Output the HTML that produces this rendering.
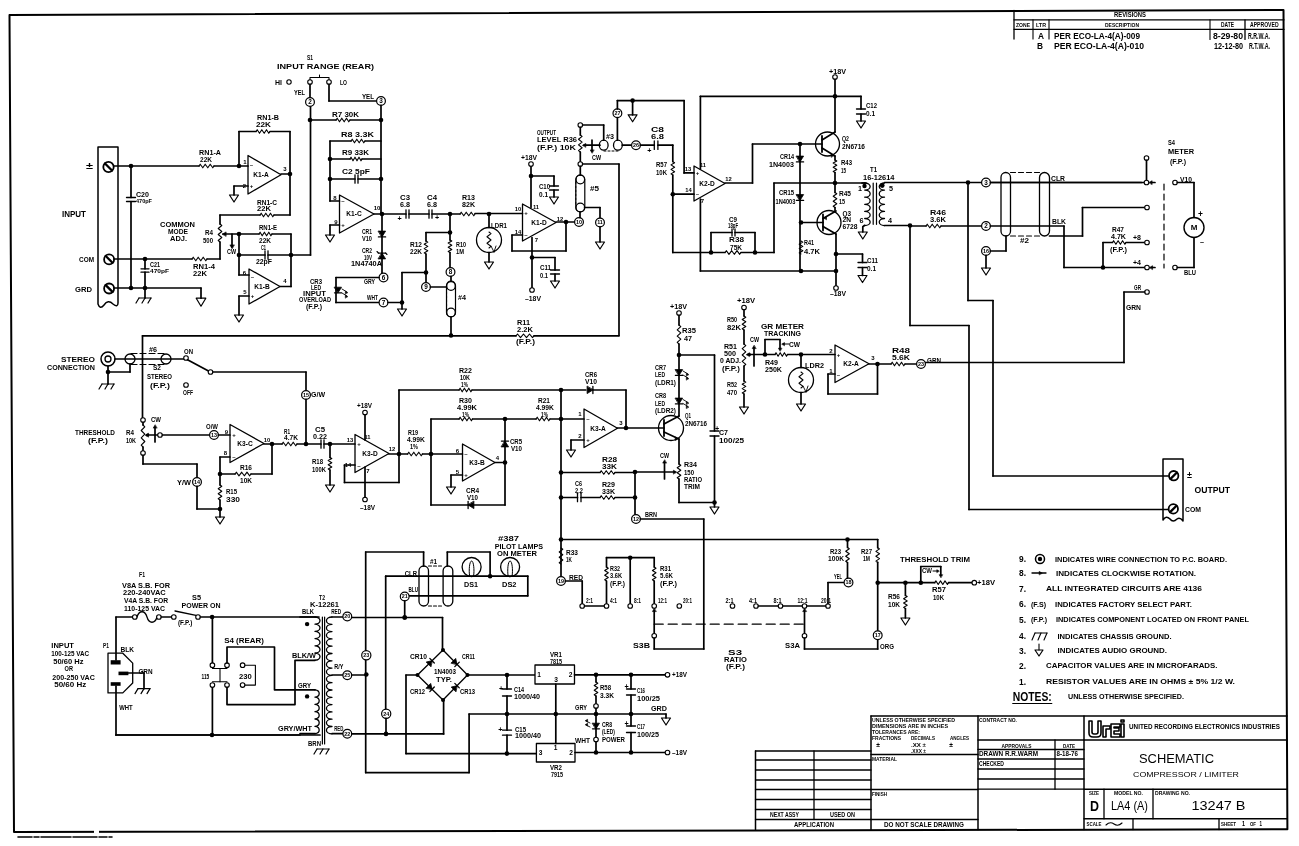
<!DOCTYPE html>
<html><head><meta charset="utf-8"><title>Schematic Compressor / Limiter</title>
<style>
html,body{margin:0;padding:0;background:#fff;}
body{width:1299px;height:846px;overflow:hidden;}
svg{display:block;will-change:transform;}
svg text{font-family:"Liberation Sans",sans-serif;fill:#000;stroke:none;}
svg text.b{font-weight:bold;}
svg text.n{font-weight:normal;}
</style></head>
<body>
<svg width="1299" height="846" viewBox="0 0 1299 846" stroke="#000" stroke-width="1.7" fill="none" stroke-linecap="round" stroke-linejoin="round">
<rect x="0" y="0" width="1299" height="846" fill="#fff" stroke="none"/>
<polygon points="9.5,15 1283.5,10 1287.4,829.3 14,832" stroke-width="2"/>
<rect x="94" y="829" width="5" height="5" fill="#fff" stroke="none"/>
<polyline points="18,837 112,837" stroke-width="1.6" stroke-dasharray="14 2 5 2 30 2 24 2 8 2"/>
<polyline points="1014,10.5 1014,39" stroke-width="1.3"/>
<polyline points="1014,19.8 1284,19.8" stroke-width="1.3"/>
<polyline points="1014,29.3 1284,29.3" stroke-width="1.3"/>
<polyline points="1033,19.8 1033,39" stroke-width="1.1"/>
<polyline points="1049,19.8 1049,39" stroke-width="1.1"/>
<polyline points="1210,19.8 1210,39.4" stroke-width="1.1"/>
<polyline points="1245,19.8 1245,39.4" stroke-width="1.3"/>
<text x="1114" y="17.4" font-size="6.6" text-anchor="start" class="b" textLength="32" lengthAdjust="spacingAndGlyphs">REVISIONS</text>
<text x="1016" y="27.2" font-size="6" text-anchor="start" class="b" textLength="14" lengthAdjust="spacingAndGlyphs">ZONE</text>
<text x="1036" y="27.2" font-size="6" text-anchor="start" class="b" textLength="10" lengthAdjust="spacingAndGlyphs">LTR</text>
<text x="1105" y="27.2" font-size="6" text-anchor="start" class="b" textLength="34" lengthAdjust="spacingAndGlyphs">DESCRIPTION</text>
<text x="1221" y="27.4" font-size="6.6" text-anchor="start" class="b" textLength="13" lengthAdjust="spacingAndGlyphs">DATE</text>
<text x="1250" y="27.4" font-size="6.6" text-anchor="start" class="b" textLength="28.6" lengthAdjust="spacingAndGlyphs">APPROVED</text>
<text x="1038" y="39.2" font-size="9" text-anchor="start" class="b" textLength="6" lengthAdjust="spacingAndGlyphs">A</text>
<text x="1054" y="39.2" font-size="9" text-anchor="start" class="b" textLength="86" lengthAdjust="spacingAndGlyphs">PER ECO-LA-4(A)-009</text>
<text x="1213" y="39.2" font-size="9" text-anchor="start" class="b" textLength="30" lengthAdjust="spacingAndGlyphs">8-29-80</text>
<text x="1248" y="39.2" font-size="9" text-anchor="start" class="b" textLength="22" lengthAdjust="spacingAndGlyphs">R.R.W.A.</text>
<text x="1037" y="48.6" font-size="9" text-anchor="start" class="b" textLength="6" lengthAdjust="spacingAndGlyphs">B</text>
<text x="1054" y="48.6" font-size="9" text-anchor="start" class="b" textLength="90" lengthAdjust="spacingAndGlyphs">PER ECO-LA-4(A)-010</text>
<text x="1214" y="48.6" font-size="9" text-anchor="start" class="b" textLength="29" lengthAdjust="spacingAndGlyphs">12-12-80</text>
<text x="1249" y="48.6" font-size="9" text-anchor="start" class="b" textLength="21" lengthAdjust="spacingAndGlyphs">R.T.W.A.</text>
<path d="M98,147 L118,147 L118,303 Q118,308 113,304 Q108,299 104,305 Q100,310 98,304 Z" fill="none" stroke-width="1.5"/>
<circle cx="108.5" cy="167" r="5.2" fill="none" stroke-width="1.8"/>
<polyline points="105,163.5 112,170.5" stroke-width="2.3"/>
<circle cx="109.1" cy="259.4" r="5" fill="none" stroke-width="1.8"/>
<polyline points="105.7,256 112.5,262.8" stroke-width="2.3"/>
<circle cx="109.1" cy="288.5" r="5" fill="none" stroke-width="1.8"/>
<polyline points="105.7,285.1 112.5,291.9" stroke-width="2.3"/>
<text x="86" y="169.2" font-size="9" text-anchor="start" class="b" textLength="7" lengthAdjust="spacingAndGlyphs">±</text>
<text x="62" y="217.2" font-size="9" text-anchor="start" class="b" textLength="24" lengthAdjust="spacingAndGlyphs">INPUT</text>
<text x="79" y="262.3" font-size="7.8" text-anchor="start" class="b" textLength="15" lengthAdjust="spacingAndGlyphs">COM</text>
<text x="75" y="291.8" font-size="7.8" text-anchor="start" class="b" textLength="17" lengthAdjust="spacingAndGlyphs">GRD</text>
<polyline points="114,166 199,166"/>
<polyline points="199,166 200.2,164.2 202.8,167.8 205.2,164.2 207.8,167.8 210.2,164.2 212.8,167.8 214,166" stroke-width="1.1"/>
<polyline points="214,166 248,166"/>
<circle cx="131" cy="166" r="2.3" fill="#000" stroke="none"/>
<circle cx="239" cy="166" r="2.3" fill="#000" stroke="none"/>
<text x="199" y="154.6" font-size="7.2" text-anchor="start" class="b" textLength="22" lengthAdjust="spacingAndGlyphs">RN1-A</text>
<text x="200" y="161.6" font-size="7.2" text-anchor="start" class="b" textLength="12" lengthAdjust="spacingAndGlyphs">22K</text>
<polyline points="131,166 131,197.5"/>
<polyline points="126.5,197.5 135.5,197.5" stroke-width="1.3"/>
<polyline points="126.5,201.5 135.5,201.5" stroke-width="1.3"/>
<polyline points="131,201.5 131,288"/>
<text x="136" y="196.6" font-size="7.2" text-anchor="start" class="b" textLength="13" lengthAdjust="spacingAndGlyphs">C20</text>
<text x="136" y="202.7" font-size="6" text-anchor="start" class="b" textLength="16" lengthAdjust="spacingAndGlyphs">470pF</text>
<polyline points="114,259 192,259"/>
<polyline points="192,259 193.2,257.2 195.8,260.8 198.2,257.2 200.8,260.8 203.2,257.2 205.8,260.8 207,259" stroke-width="1.1"/>
<polyline points="207,259 220,259"/>
<polyline points="220,259 220,242"/>
<circle cx="145" cy="259" r="2.3" fill="#000" stroke="none"/>
<polyline points="145,259 145,268.8"/>
<polyline points="141,268.8 149,268.8" stroke-width="1.3"/>
<polyline points="141,272.2 149,272.2" stroke-width="1.3"/>
<polyline points="145,272.2 145,288"/>
<text x="150" y="266.6" font-size="7.2" text-anchor="start" class="b" textLength="10" lengthAdjust="spacingAndGlyphs">C21</text>
<text x="150" y="272.7" font-size="6" text-anchor="start" class="b" textLength="19" lengthAdjust="spacingAndGlyphs">470pF</text>
<text x="193" y="268.6" font-size="7.2" text-anchor="start" class="b" textLength="22" lengthAdjust="spacingAndGlyphs">RN1-4</text>
<text x="193" y="275.6" font-size="7.2" text-anchor="start" class="b" textLength="14" lengthAdjust="spacingAndGlyphs">22K</text>
<polyline points="114,288 201,288"/>
<polyline points="201,288 201,298.2"/>
<polygon points="196.2,298.2 205.8,298.2 201,306.2" stroke-width="1.2"/>
<circle cx="131" cy="288" r="2.3" fill="#000" stroke="none"/>
<circle cx="145" cy="288" r="2.3" fill="#000" stroke="none"/>
<polyline points="145,288 145,298"/>
<polyline points="139,298 151,298" stroke-width="1.2"/>
<polyline points="139,298 136,303" stroke-width="1.2"/>
<polyline points="145,298 142,303" stroke-width="1.2"/>
<polyline points="151,298 148,303" stroke-width="1.2"/>
<polyline points="220,215 220,224"/>
<polyline points="220,224 221.8,225.5 218.2,228.5 221.8,231.5 218.2,234.5 221.8,237.5 218.2,240.5 220,242" stroke-width="1.1"/>
<polyline points="239,234 223,234"/>
<polygon points="222.5,234 226.1,231.9 226.1,236.1" stroke-width="0.6" fill="#000"/>
<circle cx="239" cy="234" r="2.3" fill="#000" stroke="none"/>
<polyline points="232,234 232,247"/>
<polygon points="232,248.5 229.9,244.9 234.1,244.9" stroke-width="0.6" fill="#000"/>
<text x="160" y="227.1" font-size="7.2" text-anchor="start" class="b" textLength="35" lengthAdjust="spacingAndGlyphs">COMMON</text>
<text x="168" y="234.1" font-size="7.2" text-anchor="start" class="b" textLength="20" lengthAdjust="spacingAndGlyphs">MODE</text>
<text x="170" y="241.1" font-size="7.2" text-anchor="start" class="b" textLength="17" lengthAdjust="spacingAndGlyphs">ADJ.</text>
<text x="205" y="234.6" font-size="7.2" text-anchor="start" class="b" textLength="8" lengthAdjust="spacingAndGlyphs">R4</text>
<text x="203" y="242.6" font-size="7.2" text-anchor="start" class="b" textLength="10" lengthAdjust="spacingAndGlyphs">500</text>
<text x="227" y="254.1" font-size="7.2" text-anchor="start" class="b" textLength="9" lengthAdjust="spacingAndGlyphs">CW</text>
<polyline points="220,215 260,215"/>
<polyline points="260,215 261.2,213.2 263.5,216.8 265.8,213.2 268.2,216.8 270.5,213.2 272.8,216.8 274,215" stroke-width="1.1"/>
<polyline points="274,215 290,215"/>
<text x="257" y="204.6" font-size="7.2" text-anchor="start" class="b" textLength="20" lengthAdjust="spacingAndGlyphs">RN1-C</text>
<text x="257" y="211.1" font-size="7.2" text-anchor="start" class="b" textLength="14" lengthAdjust="spacingAndGlyphs">22K</text>
<polyline points="239,131.5 239,166"/>
<polyline points="239,131.5 256,131.5"/>
<polyline points="256,131.5 257.2,129.7 259.5,133.3 261.8,129.7 264.2,133.3 266.5,129.7 268.8,133.3 270,131.5" stroke-width="1.1"/>
<polyline points="270,131.5 290,131.5"/>
<text x="257" y="119.6" font-size="7.2" text-anchor="start" class="b" textLength="22" lengthAdjust="spacingAndGlyphs">RN1-B</text>
<text x="256" y="126.6" font-size="7.2" text-anchor="start" class="b" textLength="15" lengthAdjust="spacingAndGlyphs">22K</text>
<polyline points="290,131.5 290,215"/>
<polygon points="248,155.5 248,194 281,174.8" stroke-width="1.3"/>
<text x="261" y="177.1" font-size="6.6" text-anchor="middle" class="b">K1-A</text>
<text x="245" y="164.2" font-size="6" text-anchor="middle" class="b">1</text>
<text x="244.5" y="188.2" font-size="6" text-anchor="middle" class="b">2</text>
<text x="285" y="171.2" font-size="6" text-anchor="middle" class="b">3</text>
<text x="251.5" y="167.2" font-size="6" text-anchor="middle" class="b">–</text>
<text x="251.5" y="188.2" font-size="6" text-anchor="middle" class="b">+</text>
<polyline points="248,186 234,186"/>
<polyline points="234,186 234,195"/>
<polygon points="229.5,195 238.5,195 234,202" stroke-width="1.2"/>
<polyline points="281,174 290,174"/>
<circle cx="290" cy="174" r="2.3" fill="#000" stroke="none"/>
<polyline points="239,234 259,234"/>
<polyline points="259,234 260.1,232.2 262.2,235.8 264.4,232.2 266.6,235.8 268.8,232.2 270.9,235.8 272,234" stroke-width="1.1"/>
<polyline points="272,234 291,234"/>
<text x="259" y="229.6" font-size="7.2" text-anchor="start" class="b" textLength="18" lengthAdjust="spacingAndGlyphs">RN1-E</text>
<text x="259" y="243.1" font-size="7.2" text-anchor="start" class="b" textLength="12" lengthAdjust="spacingAndGlyphs">22K</text>
<polyline points="239,255 265,255"/>
<polyline points="265,250.8 265,259.2" stroke-width="1.3"/>
<polyline points="268,250.8 268,259.2" stroke-width="1.3"/>
<polyline points="268,255 291,255"/>
<text x="261" y="250.1" font-size="7.2" text-anchor="start" class="b" textLength="5" lengthAdjust="spacingAndGlyphs">C1</text>
<text x="256" y="264.4" font-size="6.6" text-anchor="start" class="b" textLength="16" lengthAdjust="spacingAndGlyphs">22pF</text>
<circle cx="239" cy="255" r="2.3" fill="#000" stroke="none"/>
<circle cx="291" cy="255" r="2.3" fill="#000" stroke="none"/>
<polyline points="239,234 239,275"/>
<polyline points="239,275 249,275"/>
<polyline points="291,234 291,286.5"/>
<polygon points="249,269 249,304 280,286.5" stroke-width="1.3"/>
<text x="262" y="288.9" font-size="6.6" text-anchor="middle" class="b">K1-B</text>
<text x="244.5" y="275.2" font-size="6" text-anchor="middle" class="b">6</text>
<text x="245" y="294.2" font-size="6" text-anchor="middle" class="b">5</text>
<text x="285" y="283.2" font-size="6" text-anchor="middle" class="b">4</text>
<text x="252.5" y="279.2" font-size="6" text-anchor="middle" class="b">–</text>
<text x="252.5" y="298.2" font-size="6" text-anchor="middle" class="b">+</text>
<polyline points="249,296 239,296"/>
<polyline points="239,296 239,315"/>
<polygon points="234.5,315 243.5,315 239,322" stroke-width="1.2"/>
<polyline points="280,286.5 291,286.5"/>
<polyline points="291,255 310.5,255"/>
<polyline points="310.5,106.5 310.5,255"/>
<text x="307" y="60.1" font-size="7.2" text-anchor="start" class="b" textLength="6" lengthAdjust="spacingAndGlyphs">S1</text>
<text x="277" y="68.8" font-size="7.8" text-anchor="start" class="b" textLength="97" lengthAdjust="spacingAndGlyphs">INPUT  RANGE  (REAR)</text>
<text x="275" y="84.6" font-size="7.2" text-anchor="start" class="b" textLength="7" lengthAdjust="spacingAndGlyphs">HI</text>
<circle cx="289" cy="82" r="2.2" fill="#fff" stroke-width="1.1"/>
<circle cx="310" cy="82" r="2.3" fill="#fff" stroke-width="1.1"/>
<circle cx="329" cy="82" r="2.3" fill="#fff" stroke-width="1.1"/>
<polyline points="310,79.5 310,77.5 329,77.5 329,79.5" stroke-width="1.1"/>
<polyline points="319.5,75 319.5,77.5" stroke-width="1"/>
<text x="340" y="84.6" font-size="7.2" text-anchor="start" class="b" textLength="7" lengthAdjust="spacingAndGlyphs">LO</text>
<polyline points="310,84.3 310,97.6"/>
<text x="294" y="94.6" font-size="7.2" text-anchor="start" class="b" textLength="11" lengthAdjust="spacingAndGlyphs">YEL</text>
<circle cx="310" cy="102" r="4.4" fill="#fff" stroke-width="1.2"/>
<text x="310" y="104.3" font-size="6.4" text-anchor="middle" class="b">2</text>
<polyline points="329,84.3 329,101"/>
<polyline points="329,101 376.6,101"/>
<text x="362" y="98.6" font-size="7.2" text-anchor="start" class="b" textLength="12" lengthAdjust="spacingAndGlyphs">YEL</text>
<circle cx="381" cy="101" r="4.4" fill="#fff" stroke-width="1.2"/>
<text x="381" y="103.3" font-size="6.4" text-anchor="middle" class="b">3</text>
<polyline points="381,105.4 381,214"/>
<polyline points="310,120 336,120"/>
<polyline points="336,120 337.2,118.2 339.5,121.8 341.8,118.2 344.2,121.8 346.5,118.2 348.8,121.8 350,120" stroke-width="1.1"/>
<polyline points="350,120 381,120"/>
<circle cx="310" cy="120" r="2.3" fill="#000" stroke="none"/>
<circle cx="381" cy="120" r="2.3" fill="#000" stroke="none"/>
<text x="332" y="116.6" font-size="7.2" text-anchor="start" class="b" textLength="27" lengthAdjust="spacingAndGlyphs">R7  30K</text>
<polyline points="330,141 351,141"/>
<polyline points="351,141 352.2,139.2 354.5,142.8 356.8,139.2 359.2,142.8 361.5,139.2 363.8,142.8 365,141" stroke-width="1.1"/>
<polyline points="365,141 381,141"/>
<text x="341" y="137.1" font-size="7.2" text-anchor="start" class="b" textLength="33" lengthAdjust="spacingAndGlyphs">R8  3.3K</text>
<polyline points="330,159 350,159"/>
<polyline points="350,159 351,157.2 353,160.8 355,157.2 357,160.8 359,157.2 361,160.8 362,159" stroke-width="1.1"/>
<polyline points="362,159 381,159"/>
<circle cx="330" cy="159" r="2.3" fill="#000" stroke="none"/>
<text x="342" y="154.6" font-size="7.2" text-anchor="start" class="b" textLength="27" lengthAdjust="spacingAndGlyphs">R9  33K</text>
<polyline points="330,179 355,179"/>
<polyline points="355,174.8 355,183.2" stroke-width="1.3"/>
<polyline points="358,174.8 358,183.2" stroke-width="1.3"/>
<polyline points="358,179 381,179"/>
<circle cx="330" cy="179" r="2.3" fill="#000" stroke="none"/>
<circle cx="381" cy="179" r="2.3" fill="#000" stroke="none"/>
<text x="342" y="174.1" font-size="7.2" text-anchor="start" class="b" textLength="28" lengthAdjust="spacingAndGlyphs">C2  5pF</text>
<polyline points="330,141 330,201"/>
<polyline points="330,201 339.5,201"/>
<polygon points="339.5,195 339.5,233 374,214" stroke-width="1.3"/>
<text x="354" y="216.4" font-size="6.6" text-anchor="middle" class="b">K1-C</text>
<text x="335" y="199.7" font-size="6" text-anchor="middle" class="b">8</text>
<text x="336" y="223.7" font-size="6" text-anchor="middle" class="b">9</text>
<text x="377" y="210.2" font-size="6" text-anchor="middle" class="b">10</text>
<text x="343" y="203.2" font-size="6" text-anchor="middle" class="b">–</text>
<text x="343" y="227.2" font-size="6" text-anchor="middle" class="b">+</text>
<polyline points="339.5,225 330,225"/>
<polyline points="330,225 330,235"/>
<polygon points="325.5,235 334.5,235 330,242" stroke-width="1.2"/>
<polyline points="374,214 406,214"/>
<circle cx="382" cy="214" r="2.3" fill="#000" stroke="none"/>
<polyline points="406,209.8 406,218.2" stroke-width="1.3"/>
<polyline points="409,209.8 409,218.2" stroke-width="1.3"/>
<polyline points="409,214 429,214"/>
<polyline points="429,209.8 429,218.2" stroke-width="1.3"/>
<polyline points="432,209.8 432,218.2" stroke-width="1.3"/>
<polyline points="432,214 460,214"/>
<text x="399.5" y="220.6" font-size="7.2" text-anchor="middle" class="b">+</text>
<text x="437" y="220.1" font-size="7.2" text-anchor="middle" class="b">+</text>
<text x="400" y="199.6" font-size="7.2" text-anchor="start" class="b" textLength="10" lengthAdjust="spacingAndGlyphs">C3</text>
<text x="400" y="207.1" font-size="7.2" text-anchor="start" class="b" textLength="10" lengthAdjust="spacingAndGlyphs">6.8</text>
<text x="427" y="199.6" font-size="7.2" text-anchor="start" class="b" textLength="10" lengthAdjust="spacingAndGlyphs">C4</text>
<text x="427" y="207.1" font-size="7.2" text-anchor="start" class="b" textLength="10" lengthAdjust="spacingAndGlyphs">6.8</text>
<circle cx="450" cy="214" r="2.3" fill="#000" stroke="none"/>
<polyline points="460,214 461.2,212.2 463.8,215.8 466.2,212.2 468.8,215.8 471.2,212.2 473.8,215.8 475,214" stroke-width="1.1"/>
<polyline points="475,213.5 522.5,213.5"/>
<circle cx="489" cy="214" r="2.3" fill="#000" stroke="none"/>
<text x="462" y="199.6" font-size="7.2" text-anchor="start" class="b" textLength="13" lengthAdjust="spacingAndGlyphs">R13</text>
<text x="462" y="207.1" font-size="7.2" text-anchor="start" class="b" textLength="13" lengthAdjust="spacingAndGlyphs">82K</text>
<polyline points="382,214 382,273"/>
<polygon points="378.4,231.1 385.6,231.1 382,236.9" stroke-width="0.8" fill="#000"/>
<polyline points="378.4,236.9 385.6,236.9" stroke-width="1.3"/>
<polygon points="378.4,258.9 385.6,258.9 382,253.1" stroke-width="0.8" fill="#000"/>
<polyline points="378.4,253.1 385.6,253.1" stroke-width="1.3"/>
<polyline points="378.4,253 377,251.5" stroke-width="1.1"/>
<polyline points="385.6,253 387,254.5" stroke-width="1.1"/>
<text x="362" y="233.6" font-size="7.2" text-anchor="start" class="b" textLength="10" lengthAdjust="spacingAndGlyphs">CR1</text>
<text x="362" y="241.1" font-size="7.2" text-anchor="start" class="b" textLength="10" lengthAdjust="spacingAndGlyphs">V10</text>
<text x="362" y="252.6" font-size="7.2" text-anchor="start" class="b" textLength="10" lengthAdjust="spacingAndGlyphs">CR2</text>
<text x="364" y="259.6" font-size="7.2" text-anchor="start" class="b" textLength="8" lengthAdjust="spacingAndGlyphs">10V</text>
<text x="351" y="266.4" font-size="6.6" text-anchor="start" class="b" textLength="31" lengthAdjust="spacingAndGlyphs">1N4740A</text>
<circle cx="383.5" cy="277.5" r="4.4" fill="#fff" stroke-width="1.2"/>
<text x="383.5" y="279.8" font-size="6.4" text-anchor="middle" class="b">6</text>
<polyline points="379,277.5 336,277.5"/>
<polyline points="336,277.5 336,302.5"/>
<polyline points="336,302.5 379,302.5"/>
<polygon points="334.5,287.2 341.5,287.2 338,292.8" stroke-width="0.8" fill="#000"/>
<polyline points="334.5,292.8 341.5,292.8" stroke-width="1.3"/>
<polyline points="342,289 347,292" stroke-width="0.9"/>
<polygon points="347.5,292.5 345.3,291.2 345.3,293.8" stroke-width="0.6" fill="#000"/>
<polyline points="342,293 347,296" stroke-width="0.9"/>
<polygon points="347.5,296.5 345.3,295.2 345.3,297.8" stroke-width="0.6" fill="#000"/>
<text x="364" y="284.1" font-size="7.2" text-anchor="start" class="b" textLength="11" lengthAdjust="spacingAndGlyphs">GRY</text>
<text x="367" y="300.1" font-size="7.2" text-anchor="start" class="b" textLength="11" lengthAdjust="spacingAndGlyphs">WHT</text>
<text x="310" y="283.6" font-size="7.2" text-anchor="start" class="b" textLength="12" lengthAdjust="spacingAndGlyphs">CR3</text>
<text x="311" y="289.6" font-size="7.2" text-anchor="start" class="b" textLength="10" lengthAdjust="spacingAndGlyphs">LED</text>
<text x="303" y="295.6" font-size="7.2" text-anchor="start" class="b" textLength="23" lengthAdjust="spacingAndGlyphs">INPUT</text>
<text x="299" y="302.1" font-size="7.2" text-anchor="start" class="b" textLength="32" lengthAdjust="spacingAndGlyphs">OVERLOAD</text>
<text x="306" y="308.6" font-size="7.2" text-anchor="start" class="b" textLength="16" lengthAdjust="spacingAndGlyphs">(F.P.)</text>
<circle cx="383.5" cy="302.5" r="4.4" fill="#fff" stroke-width="1.2"/>
<text x="383.5" y="304.8" font-size="6.4" text-anchor="middle" class="b">7</text>
<polyline points="388,302.5 402,302.5"/>
<circle cx="402" cy="302.5" r="2.3" fill="#000" stroke="none"/>
<polyline points="402,302.5 402,309"/>
<polygon points="397.5,309 406.5,309 402,316" stroke-width="1.2"/>
<polyline points="402,302.5 402,272.5"/>
<polyline points="402,272.5 426,272.5"/>
<circle cx="426" cy="272.5" r="2.3" fill="#000" stroke="none"/>
<polyline points="426,232.5 426,241"/>
<polyline points="426,241 427.8,242.1 424.2,244.2 427.8,246.4 424.2,248.6 427.8,250.8 424.2,252.9 426,254" stroke-width="1.1"/>
<polyline points="426,254 426,282.6"/>
<polyline points="426,232.5 450,232.5"/>
<text x="410" y="246.6" font-size="7.2" text-anchor="start" class="b" textLength="12" lengthAdjust="spacingAndGlyphs">R12</text>
<text x="410" y="254.1" font-size="7.2" text-anchor="start" class="b" textLength="12" lengthAdjust="spacingAndGlyphs">22K</text>
<circle cx="426" cy="287" r="4.4" fill="#fff" stroke-width="1.2"/>
<text x="426" y="289.3" font-size="6.4" text-anchor="middle" class="b">9</text>
<polyline points="430.4,287 446,287"/>
<polyline points="450,214 450,240"/>
<circle cx="450" cy="232.5" r="2.3" fill="#000" stroke="none"/>
<polyline points="450,240 451.8,241 448.2,243.1 451.8,245.2 448.2,247.3 451.8,249.4 448.2,251.5 450,252.5" stroke-width="1.1"/>
<polyline points="450,252.5 450,267.6"/>
<text x="456" y="246.6" font-size="7.2" text-anchor="start" class="b" textLength="10" lengthAdjust="spacingAndGlyphs">R10</text>
<text x="456" y="254.1" font-size="7.2" text-anchor="start" class="b" textLength="8" lengthAdjust="spacingAndGlyphs">1M</text>
<circle cx="450.5" cy="272" r="4.4" fill="#fff" stroke-width="1.2"/>
<text x="450.5" y="274.3" font-size="6.4" text-anchor="middle" class="b">8</text>
<rect x="446.5" y="281" width="9" height="36" rx="4.5" fill="none" stroke-width="1.2"/>
<circle cx="451" cy="286" r="4.3" fill="none" stroke-width="1.2"/>
<circle cx="451" cy="312.5" r="4.3" fill="none" stroke-width="1.2"/>
<polyline points="446.6,288 446.6,312" stroke-width="1" stroke-dasharray="2 2"/>
<text x="458" y="300.1" font-size="7.2" text-anchor="start" class="b" textLength="8" lengthAdjust="spacingAndGlyphs">#4</text>
<polyline points="451,276.4 451,281"/>
<polyline points="451,317 451,335.5"/>
<circle cx="451" cy="335.5" r="2.3" fill="#000" stroke="none"/>
<polyline points="489,214 489,227.5"/>
<circle cx="489" cy="240" r="12.5" fill="none" stroke-width="1.3"/>
<polyline points="489,232 491,233.6 487,236.8 491,240 487,243.2 491,246.4 489,248" stroke-width="1.1"/>
<polyline points="491,246 494,252" stroke-width="0.9"/>
<polyline points="494,252 496,246" stroke-width="0.9"/>
<polyline points="489,252.5 489,262"/>
<polygon points="484.5,262 493.5,262 489,269" stroke-width="1.2"/>
<text x="491" y="227.6" font-size="7.2" text-anchor="start" class="b" textLength="16" lengthAdjust="spacingAndGlyphs">LDR1</text>
<polygon points="522.5,204 522.5,241 556,222.5" stroke-width="1.3"/>
<text x="539" y="224.9" font-size="6.6" text-anchor="middle" class="b">K1-D</text>
<text x="518" y="210.6" font-size="5.8" text-anchor="middle" class="b">10</text>
<text x="518" y="234.1" font-size="5.8" text-anchor="middle" class="b">14</text>
<text x="536" y="208.6" font-size="5.8" text-anchor="middle" class="b">11</text>
<text x="536.5" y="242.2" font-size="6" text-anchor="middle" class="b">7</text>
<text x="560" y="220.6" font-size="5.8" text-anchor="middle" class="b">12</text>
<text x="526" y="215.2" font-size="6" text-anchor="middle" class="b">+</text>
<text x="526" y="237.2" font-size="6" text-anchor="middle" class="b">–</text>
<polyline points="531,166.3 531,207.3"/>
<circle cx="531" cy="164" r="2.3" fill="#fff" stroke-width="1.1"/>
<text x="521" y="159.6" font-size="7.2" text-anchor="start" class="b" textLength="16" lengthAdjust="spacingAndGlyphs">+18V</text>
<circle cx="531" cy="176" r="2.3" fill="#000" stroke="none"/>
<polyline points="531,176 554,176"/>
<polyline points="554,176 554,186"/>
<polyline points="549.5,186 558.5,186" stroke-width="1.3"/>
<polyline points="549.5,190 558.5,190" stroke-width="1.3"/>
<polyline points="554,190 554,197"/>
<polygon points="549.5,197 558.5,197 554,204" stroke-width="1.2"/>
<text x="539" y="189.1" font-size="7.2" text-anchor="start" class="b" textLength="11" lengthAdjust="spacingAndGlyphs">C10</text>
<text x="539" y="196.6" font-size="7.2" text-anchor="start" class="b" textLength="9" lengthAdjust="spacingAndGlyphs">0.1</text>
<polyline points="522.5,235 512,235"/>
<polyline points="512,235 512,251"/>
<polyline points="512,251 566,251"/>
<polyline points="566,251 566,222"/>
<polyline points="556,222 574.6,222"/>
<circle cx="566" cy="222" r="2.3" fill="#000" stroke="none"/>
<circle cx="579" cy="222" r="4.4" fill="#fff" stroke-width="1.2"/>
<text x="579" y="223.9" font-size="5.4" text-anchor="middle" class="b">10</text>
<polyline points="532,237.5 532,287.7"/>
<circle cx="532" cy="290" r="2.3" fill="#fff" stroke-width="1.1"/>
<circle cx="532" cy="257.5" r="2.3" fill="#000" stroke="none"/>
<polyline points="532,257.5 555,257.5"/>
<polyline points="555,257.5 555,270"/>
<polyline points="550.5,270 559.5,270" stroke-width="1.3"/>
<polyline points="550.5,274 559.5,274" stroke-width="1.3"/>
<polyline points="555,274 555,281"/>
<polygon points="550.5,281 559.5,281 555,288" stroke-width="1.2"/>
<text x="540" y="269.6" font-size="7.2" text-anchor="start" class="b" textLength="11" lengthAdjust="spacingAndGlyphs">C11</text>
<text x="540" y="277.6" font-size="7.2" text-anchor="start" class="b" textLength="8" lengthAdjust="spacingAndGlyphs">0.1</text>
<text x="525" y="300.6" font-size="7.2" text-anchor="start" class="b" textLength="16" lengthAdjust="spacingAndGlyphs">–18V</text>
<circle cx="580.3" cy="125" r="2.3" fill="#fff" stroke-width="1.1"/>
<polyline points="580.3,127.3 580.3,135"/>
<polyline points="580.3,135 582.1,136.4 578.5,139.2 582.1,142.1 578.5,144.9 582.1,147.8 578.5,150.6 580.3,152" stroke-width="1.1"/>
<polyline points="580.3,152 580.3,161.7"/>
<circle cx="580.3" cy="164" r="2.3" fill="#fff" stroke-width="1.1"/>
<polyline points="600,145.2 584,145.2"/>
<polygon points="582.7,145.2 585.8,143.4 585.8,147" stroke-width="0.6" fill="#000"/>
<polyline points="592,140 592,151"/>
<polygon points="592,153 590.2,149.9 593.8,149.9" stroke-width="0.6" fill="#000"/>
<text x="592" y="159.6" font-size="7.2" text-anchor="start" class="b" textLength="9" lengthAdjust="spacingAndGlyphs">CW</text>
<text x="537" y="134.6" font-size="7.2" text-anchor="start" class="b" textLength="19" lengthAdjust="spacingAndGlyphs">OUTPUT</text>
<text x="537" y="142.1" font-size="7.2" text-anchor="start" class="b" textLength="40" lengthAdjust="spacingAndGlyphs">LEVEL  R36</text>
<text x="537" y="149.6" font-size="7.2" text-anchor="start" class="b" textLength="39" lengthAdjust="spacingAndGlyphs">(F.P.)  10K</text>
<polyline points="582.6,125 603.7,125"/>
<polyline points="603.7,125 603.7,140.2"/>
<ellipse cx="603.7" cy="145.2" rx="4.4" ry="5" fill="none" stroke-width="1.3"/>
<ellipse cx="617.9" cy="145.2" rx="4.4" ry="5" fill="none" stroke-width="1.3"/>
<polyline points="604,151 618,151" stroke-width="1" stroke-dasharray="2 2"/>
<text x="606" y="138.6" font-size="7.2" text-anchor="start" class="b" textLength="8" lengthAdjust="spacingAndGlyphs">#3</text>
<circle cx="617.4" cy="113.3" r="4.4" fill="#fff" stroke-width="1.2"/>
<text x="617.4" y="115.2" font-size="5.4" text-anchor="middle" class="b">27</text>
<polyline points="617.4,117.7 617.4,140.2"/>
<polyline points="617.4,108.9 617.4,100.6"/>
<polyline points="617.4,100.6 684.1,100.6"/>
<circle cx="632.6" cy="100.6" r="2.3" fill="#000" stroke="none"/>
<polyline points="632.6,100.6 632.6,114.8"/>
<polygon points="628.1,114.8 637.1,114.8 632.6,121.8" stroke-width="1.2"/>
<polyline points="684.1,100.6 684.1,172.9"/>
<polyline points="684.1,172.9 694,172.9"/>
<polyline points="622.3,145.2 631,145.2"/>
<circle cx="636" cy="145.2" r="4.4" fill="#fff" stroke-width="1.2"/>
<text x="636" y="147.1" font-size="5.4" text-anchor="middle" class="b">26</text>
<polyline points="640.4,145.2 654.3,145.2"/>
<polyline points="654.3,141 654.3,149.4" stroke-width="1.3"/>
<polyline points="657.9,141 657.9,149.4" stroke-width="1.3"/>
<text x="649.4" y="152.6" font-size="7.2" text-anchor="middle" class="b">+</text>
<text x="651" y="131.6" font-size="7.2" text-anchor="start" class="b" textLength="13" lengthAdjust="spacingAndGlyphs">C8</text>
<text x="651" y="139.1" font-size="7.2" text-anchor="start" class="b" textLength="13" lengthAdjust="spacingAndGlyphs">6.8</text>
<polyline points="657.9,145.2 672.8,145.2"/>
<polyline points="672.8,145.2 672.8,161.6"/>
<polyline points="672.8,161.6 674.6,162.7 671,164.9 674.6,167.2 671,169.4 674.6,171.7 671,173.9 672.8,175" stroke-width="1.1"/>
<polyline points="672.8,175 672.8,252.5"/>
<circle cx="672.8" cy="194.2" r="2.3" fill="#000" stroke="none"/>
<polyline points="672.8,194.2 694,194.2"/>
<text x="656" y="167.1" font-size="7.2" text-anchor="start" class="b" textLength="11" lengthAdjust="spacingAndGlyphs">R57</text>
<text x="656" y="174.6" font-size="7.2" text-anchor="start" class="b" textLength="11" lengthAdjust="spacingAndGlyphs">10K</text>
<polyline points="582.6,164 619,164"/>
<polyline points="619,164 619,335.5"/>
<polyline points="580.3,166.3 580.3,175"/>
<rect x="575.8" y="175" width="9" height="37" rx="4.5" fill="none" stroke-width="1.2"/>
<circle cx="580.3" cy="179.5" r="4.3" fill="none" stroke-width="1.2"/>
<circle cx="580.3" cy="207.5" r="4.3" fill="none" stroke-width="1.2"/>
<polyline points="575.8,182 575.8,205" stroke-width="1" stroke-dasharray="2 2"/>
<text x="590" y="191.1" font-size="7.2" text-anchor="start" class="b" textLength="9" lengthAdjust="spacingAndGlyphs">#5</text>
<polyline points="580,212 580,217.6"/>
<polyline points="584.6,207.5 600,207.5"/>
<polyline points="600,207.5 600,218"/>
<circle cx="600" cy="222.5" r="4.4" fill="#fff" stroke-width="1.2"/>
<text x="600" y="224.4" font-size="5.4" text-anchor="middle" class="b">11</text>
<polyline points="600,226.9 600,242"/>
<polygon points="595.5,242 604.5,242 600,249" stroke-width="1.2"/>
<polyline points="142.5,335.8 516,335.8"/>
<polyline points="516,335.8 517.5,334 520.5,337.6 523.5,334 526.5,337.6 529.5,334 532.5,337.6 534,335.8" stroke-width="1.1"/>
<polyline points="534,335.8 619,335.8"/>
<text x="517" y="325.1" font-size="7.2" text-anchor="start" class="b" textLength="13" lengthAdjust="spacingAndGlyphs">R11</text>
<text x="517" y="331.6" font-size="7.2" text-anchor="start" class="b" textLength="16" lengthAdjust="spacingAndGlyphs">2.2K</text>
<text x="516" y="344.1" font-size="7.2" text-anchor="start" class="b" textLength="19" lengthAdjust="spacingAndGlyphs">(F.P.)</text>
<polygon points="694,166 694,201 725,183.5" stroke-width="1.3"/>
<text x="707" y="185.9" font-size="6.6" text-anchor="middle" class="b">K2-D</text>
<text x="688" y="170.6" font-size="5.8" text-anchor="middle" class="b">13</text>
<text x="688.5" y="192.1" font-size="5.8" text-anchor="middle" class="b">14</text>
<text x="703" y="167.1" font-size="5.8" text-anchor="middle" class="b">11</text>
<text x="728.5" y="180.6" font-size="5.8" text-anchor="middle" class="b">12</text>
<text x="702.5" y="203.2" font-size="6" text-anchor="middle" class="b">7</text>
<text x="697.5" y="174.7" font-size="6" text-anchor="middle" class="b">+</text>
<text x="697.5" y="196.2" font-size="6" text-anchor="middle" class="b">–</text>
<polyline points="700.4,168.9 700.4,96.3"/>
<polyline points="700.4,96.3 861,96.3"/>
<circle cx="835" cy="96.3" r="2.3" fill="#000" stroke="none"/>
<circle cx="835" cy="77" r="2.3" fill="#fff" stroke-width="1.1"/>
<text x="829" y="73.6" font-size="7.2" text-anchor="start" class="b" textLength="17" lengthAdjust="spacingAndGlyphs">+18V</text>
<polyline points="835,79.3 835,132"/>
<polyline points="861,96.3 861,109"/>
<polyline points="856.5,109 865.5,109" stroke-width="1.3"/>
<polyline points="856.5,114 865.5,114" stroke-width="1.3"/>
<polyline points="861,114 861,121"/>
<polygon points="856.5,121 865.5,121 861,128" stroke-width="1.2"/>
<text x="866" y="107.6" font-size="7.2" text-anchor="start" class="b" textLength="11" lengthAdjust="spacingAndGlyphs">C12</text>
<text x="866" y="115.6" font-size="7.2" text-anchor="start" class="b" textLength="9" lengthAdjust="spacingAndGlyphs">0.1</text>
<circle cx="827.5" cy="144" r="12" fill="none" stroke-width="1.3"/>
<polyline points="822,136 822,152" stroke-width="1.8"/>
<polyline points="822,140 835,132"/>
<polyline points="822,148 835,156"/>
<polygon points="834,155.4 831.2,153.8 831.2,157" stroke-width="0.6" fill="#000"/>
<polyline points="752.5,144 822,144"/>
<circle cx="800" cy="144" r="2.3" fill="#000" stroke="none"/>
<text x="842" y="140.6" font-size="7.2" text-anchor="start" class="b" textLength="7" lengthAdjust="spacingAndGlyphs">Q2</text>
<text x="842" y="148.9" font-size="6.6" text-anchor="start" class="b" textLength="23" lengthAdjust="spacingAndGlyphs">2N6716</text>
<polyline points="725,183 752.5,183"/>
<polyline points="752.5,183 752.5,144"/>
<polyline points="800,144 800,271"/>
<polygon points="796.4,156.1 803.6,156.1 800,161.9" stroke-width="0.8" fill="#000"/>
<polyline points="796.4,161.9 803.6,161.9" stroke-width="1.3"/>
<polygon points="796.4,194.6 803.6,194.6 800,200.4" stroke-width="0.8" fill="#000"/>
<polyline points="796.4,200.4 803.6,200.4" stroke-width="1.3"/>
<text x="780" y="159.4" font-size="6.6" text-anchor="start" class="b" textLength="14" lengthAdjust="spacingAndGlyphs">CR14</text>
<text x="769" y="166.9" font-size="6.6" text-anchor="start" class="b" textLength="25" lengthAdjust="spacingAndGlyphs">1N4003</text>
<text x="779" y="195.4" font-size="6.6" text-anchor="start" class="b" textLength="15" lengthAdjust="spacingAndGlyphs">CR15</text>
<text x="775.5" y="204.1" font-size="6.6" text-anchor="start" class="b" textLength="19.9" lengthAdjust="spacingAndGlyphs">1N4003</text>
<polyline points="835,156 835,160"/>
<polyline points="835,160 836.8,161 833.2,163.1 836.8,165.2 833.2,167.3 836.8,169.4 833.2,171.5 835,172.5" stroke-width="1.1"/>
<polyline points="835,172.5 835,192.5"/>
<circle cx="835" cy="183" r="2.3" fill="#000" stroke="none"/>
<polyline points="835,192.5 836.8,193.8 833.2,196.2 836.8,198.8 833.2,201.2 836.8,203.8 833.2,206.2 835,207.5" stroke-width="1.1"/>
<polyline points="835,207.5 835,211"/>
<text x="841" y="164.6" font-size="7.2" text-anchor="start" class="b" textLength="11" lengthAdjust="spacingAndGlyphs">R43</text>
<text x="841" y="172.6" font-size="7.2" text-anchor="start" class="b" textLength="5" lengthAdjust="spacingAndGlyphs">15</text>
<text x="839" y="195.6" font-size="7.2" text-anchor="start" class="b" textLength="12" lengthAdjust="spacingAndGlyphs">R45</text>
<text x="839" y="203.6" font-size="7.2" text-anchor="start" class="b" textLength="6" lengthAdjust="spacingAndGlyphs">15</text>
<polyline points="774,183 866,183"/>
<polyline points="774,183 774,252.5"/>
<circle cx="829" cy="222.5" r="12" fill="none" stroke-width="1.3"/>
<polyline points="823,214.5 823,230.5" stroke-width="1.8"/>
<polyline points="823,218.5 836,211"/>
<polyline points="823,226.5 836,234"/>
<polygon points="824,218 826.5,216.6 826.5,219.4" stroke-width="0.6" fill="#000"/>
<polyline points="836,234 836,285.7"/>
<polyline points="801,222.5 823,222.5"/>
<circle cx="801" cy="222.5" r="2.3" fill="#000" stroke="none"/>
<text x="842.5" y="215.9" font-size="7.2" text-anchor="start" class="b" textLength="8.5" lengthAdjust="spacingAndGlyphs">Q3</text>
<text x="842.5" y="222.1" font-size="7.2" text-anchor="start" class="b" textLength="8.5" lengthAdjust="spacingAndGlyphs">2N</text>
<text x="842.5" y="229.1" font-size="7.2" text-anchor="start" class="b" textLength="14.9" lengthAdjust="spacingAndGlyphs">6728</text>
<polyline points="801,241 802.8,242.1 799.2,244.2 802.8,246.4 799.2,248.6 802.8,250.8 799.2,252.9 801,254" stroke-width="1.1"/>
<text x="804" y="245.1" font-size="7.2" text-anchor="start" class="b" textLength="10" lengthAdjust="spacingAndGlyphs">R41</text>
<text x="804" y="253.6" font-size="7.2" text-anchor="start" class="b" textLength="16" lengthAdjust="spacingAndGlyphs">4.7K</text>
<polyline points="700.4,199 700.4,271"/>
<polyline points="700.4,271 836,271"/>
<circle cx="801" cy="271" r="2.3" fill="#000" stroke="none"/>
<circle cx="836" cy="271" r="2.3" fill="#000" stroke="none"/>
<circle cx="836" cy="254" r="2.3" fill="#000" stroke="none"/>
<polyline points="836,254 862.5,254"/>
<polyline points="862.5,254 862.5,262.5"/>
<polyline points="858,262.5 867,262.5" stroke-width="1.3"/>
<polyline points="858,267.5 867,267.5" stroke-width="1.3"/>
<polyline points="862.5,267.5 862.5,275.5"/>
<polygon points="858,275.5 867,275.5 862.5,282.5" stroke-width="1.2"/>
<text x="867" y="263.1" font-size="7.2" text-anchor="start" class="b" textLength="11" lengthAdjust="spacingAndGlyphs">C11</text>
<text x="867" y="271.1" font-size="7.2" text-anchor="start" class="b" textLength="9" lengthAdjust="spacingAndGlyphs">0.1</text>
<circle cx="836" cy="288" r="2.3" fill="#fff" stroke-width="1.1"/>
<text x="830" y="296.1" font-size="7.2" text-anchor="start" class="b" textLength="16" lengthAdjust="spacingAndGlyphs">–18V</text>
<polyline points="672.8,252.5 711,252.5"/>
<circle cx="711" cy="252.5" r="2.3" fill="#000" stroke="none"/>
<polyline points="711,252.5 725,252.5"/>
<polyline points="725,252.5 726.3,250.7 729,254.3 731.7,250.7 734.3,254.3 737,250.7 739.7,254.3 741,252.5" stroke-width="1.1"/>
<polyline points="741,252.5 774,252.5"/>
<circle cx="755" cy="252.5" r="2.3" fill="#000" stroke="none"/>
<polyline points="711,252.5 711,232.5"/>
<polyline points="711,232.5 732,232.5"/>
<polyline points="732,229 732,236" stroke-width="1.3"/>
<polyline points="735,229 735,236" stroke-width="1.3"/>
<polyline points="735,232.5 755,232.5"/>
<polyline points="755,232.5 755,252.5"/>
<text x="729" y="222.1" font-size="7.2" text-anchor="start" class="b" textLength="8" lengthAdjust="spacingAndGlyphs">C9</text>
<text x="728" y="228.4" font-size="6.6" text-anchor="start" class="b" textLength="10" lengthAdjust="spacingAndGlyphs">18pF</text>
<text x="729" y="242.1" font-size="7.2" text-anchor="start" class="b" textLength="15" lengthAdjust="spacingAndGlyphs">R38</text>
<text x="730" y="249.6" font-size="7.2" text-anchor="start" class="b" textLength="12" lengthAdjust="spacingAndGlyphs">75K</text>
<text x="870" y="172.3" font-size="7.8" text-anchor="start" class="b" textLength="7" lengthAdjust="spacingAndGlyphs">T1</text>
<text x="863" y="179.6" font-size="7.2" text-anchor="start" class="b" textLength="31.5" lengthAdjust="spacingAndGlyphs">16-12614</text>
<polyline points="873.2,183 873.2,224.3" stroke-width="1.2"/>
<polyline points="876.5,183 876.5,224.3" stroke-width="1.2"/>
<path d="M864.7,183 a5.4,3.5 0 0 1 0,7.1 a5.4,3.5 0 0 1 0,7.1 a5.4,3.5 0 0 1 0,7.1 a5.4,3.5 0 0 1 0,7.1 a5.4,3.5 0 0 1 0,7.1 a5.4,3.5 0 0 1 0,7.1 " fill="none" stroke-width="1.3"/>
<path d="M884.5,183 a5.2,3.5 0 0 0 0,7.1 a5.2,3.5 0 0 0 0,7.1 a5.2,3.5 0 0 0 0,7.1 a5.2,3.5 0 0 0 0,7.1 a5.2,3.5 0 0 0 0,7.1 a5.2,3.5 0 0 0 0,7.1 " fill="none" stroke-width="1.3"/>
<text x="860" y="190.6" font-size="7.2" text-anchor="middle" class="b">1</text>
<text x="861.4" y="223.1" font-size="7.2" text-anchor="middle" class="b">6</text>
<text x="891" y="191" font-size="7.2" text-anchor="middle" class="b">5</text>
<text x="890" y="222.6" font-size="7.2" text-anchor="middle" class="b">4</text>
<circle cx="882.2" cy="185.5" r="2.4" fill="#000" stroke="none"/>
<circle cx="864.5" cy="186" r="2.2" fill="#000" stroke="none"/>
<polyline points="864.7,225.3 862.8,226.7 862.8,232"/>
<polygon points="858.3,232 867.3,232 862.8,239" stroke-width="1.2"/>
<polyline points="862,183 864.7,183"/>
<polyline points="884.5,182.5 1141.5,182.5"/>
<polyline points="884.5,225.5 910,225.5"/>
<circle cx="910" cy="225.5" r="2.3" fill="#000" stroke="none"/>
<polyline points="910,226 926,226"/>
<polyline points="926,226 927.2,224.2 929.8,227.8 932.2,224.2 934.8,227.8 937.2,224.2 939.8,227.8 941,226" stroke-width="1.1"/>
<polyline points="941,226 981.6,226"/>
<polyline points="910,225.5 910,325.5"/>
<polyline points="910,325.5 969,325.5"/>
<polyline points="969,325.5 969,509.5"/>
<text x="930" y="214.6" font-size="7.2" text-anchor="start" class="b" textLength="16" lengthAdjust="spacingAndGlyphs">R46</text>
<text x="930" y="222.1" font-size="7.2" text-anchor="start" class="b" textLength="16" lengthAdjust="spacingAndGlyphs">3.6K</text>
<circle cx="968" cy="182.5" r="2.3" fill="#000" stroke="none"/>
<polyline points="968,182.5 968,300.5"/>
<polyline points="968,300.5 993,300.5"/>
<polyline points="993,300.5 993,476"/>
<circle cx="986" cy="182.5" r="4.4" fill="#fff" stroke-width="1.2"/>
<text x="986" y="184.8" font-size="6.4" text-anchor="middle" class="b">3</text>
<circle cx="986" cy="226" r="4.4" fill="#fff" stroke-width="1.2"/>
<text x="986" y="228.3" font-size="6.4" text-anchor="middle" class="b">2</text>
<circle cx="986" cy="251" r="4.4" fill="#fff" stroke-width="1.2"/>
<text x="986" y="252.9" font-size="5.4" text-anchor="middle" class="b">16</text>
<rect x="1001" y="172.5" width="9.5" height="63.5" rx="4.7" fill="none" stroke-width="1.3"/>
<rect x="1039.5" y="172.5" width="10" height="63.5" rx="5" fill="none" stroke-width="1.3"/>
<polyline points="1010.5,172.5 1039.5,172.5" stroke-width="1.2" stroke-dasharray="5 3"/>
<polyline points="1010.5,236 1039.5,236" stroke-width="1.2" stroke-dasharray="5 3"/>
<polyline points="990.4,182.5 1144.2,182.5"/>
<polyline points="990.4,226 1064,226"/>
<text x="1020" y="243.1" font-size="7.2" text-anchor="start" class="b" textLength="9" lengthAdjust="spacingAndGlyphs">#2</text>
<polyline points="990.4,251 1006,251"/>
<polyline points="1006,251 1006,236"/>
<polyline points="986,255.4 986,268"/>
<polygon points="981.5,268 990.5,268 986,275" stroke-width="1.2"/>
<text x="1051" y="180.6" font-size="7.2" text-anchor="start" class="b" textLength="14" lengthAdjust="spacingAndGlyphs">CLR</text>
<text x="1052" y="223.6" font-size="7.2" text-anchor="start" class="b" textLength="14" lengthAdjust="spacingAndGlyphs">BLK</text>
<polyline points="1064,226 1064,267.5"/>
<polyline points="1064,267.5 1144.7,267.5"/>
<circle cx="1103" cy="267.5" r="2.3" fill="#000" stroke="none"/>
<polyline points="1049.5,236 1082.5,236"/>
<polyline points="1082.5,236 1082.5,207.5"/>
<polyline points="1082.5,207.5 1144.7,207.5"/>
<circle cx="1147" cy="207.5" r="2.3" fill="#fff" stroke-width="1.1"/>
<polyline points="1103,267.5 1103,242.5"/>
<polyline points="1103,242.5 1112.5,242.5"/>
<polyline points="1112.5,242.5 1113.6,240.7 1115.9,244.3 1118.1,240.7 1120.4,244.3 1122.6,240.7 1124.9,244.3 1126,242.5" stroke-width="1.1"/>
<polyline points="1126,242.5 1144.7,242.5"/>
<circle cx="1147" cy="242.5" r="2.3" fill="#fff" stroke-width="1.1"/>
<text x="1112" y="232.1" font-size="7.2" text-anchor="start" class="b" textLength="12" lengthAdjust="spacingAndGlyphs">R47</text>
<text x="1111" y="238.6" font-size="7.2" text-anchor="start" class="b" textLength="15" lengthAdjust="spacingAndGlyphs">4.7K</text>
<text x="1110" y="251.6" font-size="7.2" text-anchor="start" class="b" textLength="17" lengthAdjust="spacingAndGlyphs">(F.P.)</text>
<text x="1133" y="240.1" font-size="7.2" text-anchor="start" class="b" textLength="8" lengthAdjust="spacingAndGlyphs">+8</text>
<text x="1133" y="265.1" font-size="7.2" text-anchor="start" class="b" textLength="8" lengthAdjust="spacingAndGlyphs">+4</text>
<circle cx="1146.5" cy="158" r="2.3" fill="#fff" stroke-width="1.1"/>
<polyline points="1146.5,160.3 1146.5,180.2"/>
<circle cx="1146.5" cy="182.5" r="2.3" fill="#fff" stroke-width="1.1"/>
<polygon points="1149,182.5 1152.1,180.7 1152.1,184.3" stroke-width="0.6" fill="#000"/>
<polyline points="1152,182.5 1155,182.5"/>
<circle cx="1147" cy="267.5" r="2.3" fill="#fff" stroke-width="1.1"/>
<polygon points="1149.5,267.5 1152.6,265.7 1152.6,269.3" stroke-width="0.6" fill="#000"/>
<polyline points="1152,267.5 1155,267.5"/>
<circle cx="1175" cy="182.5" r="2.3" fill="#fff" stroke-width="1.1"/>
<circle cx="1175" cy="267.5" r="2.3" fill="#fff" stroke-width="1.1"/>
<polyline points="1177.3,182.5 1194,182.5"/>
<polyline points="1194,182.5 1194,217.5"/>
<polyline points="1177.3,267.5 1194,267.5"/>
<polyline points="1194,267.5 1194,237.5"/>
<polyline points="1164,184 1164,268" stroke-width="1.2" stroke-dasharray="6 4"/>
<circle cx="1194" cy="227.5" r="10" fill="none" stroke-width="1.4"/>
<text x="1194" y="230.4" font-size="8" text-anchor="middle" class="b">M</text>
<text x="1200.5" y="217" font-size="8.4" text-anchor="middle" class="b">+</text>
<text x="1202" y="243.6" font-size="7.2" text-anchor="middle" class="b">–</text>
<text x="1168" y="144.8" font-size="7.8" text-anchor="start" class="b" textLength="7" lengthAdjust="spacingAndGlyphs">S4</text>
<text x="1168" y="153.8" font-size="7.8" text-anchor="start" class="b" textLength="26" lengthAdjust="spacingAndGlyphs">METER</text>
<text x="1170" y="163.6" font-size="7.2" text-anchor="start" class="b" textLength="16" lengthAdjust="spacingAndGlyphs">(F.P.)</text>
<text x="1180" y="181.6" font-size="7.2" text-anchor="start" class="b" textLength="12" lengthAdjust="spacingAndGlyphs">V10</text>
<text x="1184" y="275.1" font-size="7.2" text-anchor="start" class="b" textLength="12" lengthAdjust="spacingAndGlyphs">BLU</text>
<circle cx="1147" cy="292" r="2.3" fill="#fff" stroke-width="1.1"/>
<text x="1134" y="289.6" font-size="7.2" text-anchor="start" class="b" textLength="7" lengthAdjust="spacingAndGlyphs">GR</text>
<polyline points="1144.7,292 1124,292"/>
<polyline points="1124,292 1124,362.5"/>
<polyline points="1124,362.5 925.4,362.5"/>
<text x="1126" y="310.1" font-size="7.2" text-anchor="start" class="b" textLength="15" lengthAdjust="spacingAndGlyphs">GRN</text>
<polyline points="993,476 1168,476"/>
<polyline points="969,509.5 1168,509.5"/>
<path d="M1163,520 L1163,459 L1183,459 L1183,521 Q1180,517 1177,519 Q1173,523 1170,519 Q1166,515 1163,520" fill="none" stroke-width="1.5"/>
<circle cx="1173.7" cy="475.7" r="4.7" fill="none" stroke-width="1.8"/>
<polyline points="1170.5,478.9 1176.9,472.5" stroke-width="2.3"/>
<circle cx="1173.3" cy="508.9" r="4.7" fill="none" stroke-width="1.8"/>
<polyline points="1170.1,512.1 1176.5,505.7" stroke-width="2.3"/>
<text x="1189.5" y="477.7" font-size="9" text-anchor="middle" class="b">±</text>
<text x="1194.5" y="493.2" font-size="9" text-anchor="start" class="b" textLength="35.5" lengthAdjust="spacingAndGlyphs">OUTPUT</text>
<text x="1185" y="511.6" font-size="7.2" text-anchor="start" class="b" textLength="16" lengthAdjust="spacingAndGlyphs">COM</text>
<text x="737" y="303.1" font-size="7.2" text-anchor="start" class="b" textLength="18" lengthAdjust="spacingAndGlyphs">+18V</text>
<circle cx="744" cy="307.5" r="2.3" fill="#fff" stroke-width="1.1"/>
<polyline points="744,309.8 744,316"/>
<polyline points="744,316 745.8,317.2 742.2,319.5 745.8,321.8 742.2,324.2 745.8,326.5 742.2,328.8 744,330" stroke-width="1.1"/>
<polyline points="744,330 744,344"/>
<polyline points="744,344 745.8,345.6 742.2,348.7 745.8,351.9 742.2,355 745.8,358.1 742.2,361.3 745.8,364.4 744,366" stroke-width="1.1"/>
<polyline points="744,366 744,381"/>
<polyline points="744,381 745.8,382.1 742.2,384.2 745.8,386.4 742.2,388.6 745.8,390.8 742.2,392.9 744,394" stroke-width="1.1"/>
<polyline points="744,394 744,407"/>
<polygon points="739.5,407 748.5,407 744,414" stroke-width="1.2"/>
<text x="727" y="322.1" font-size="7.2" text-anchor="start" class="b" textLength="10" lengthAdjust="spacingAndGlyphs">R50</text>
<text x="727" y="329.6" font-size="7.2" text-anchor="start" class="b" textLength="14" lengthAdjust="spacingAndGlyphs">82K</text>
<text x="724" y="349.1" font-size="7.2" text-anchor="start" class="b" textLength="13" lengthAdjust="spacingAndGlyphs">R51</text>
<text x="724" y="356.1" font-size="7.2" text-anchor="start" class="b" textLength="12" lengthAdjust="spacingAndGlyphs">500</text>
<text x="720" y="363.1" font-size="7.2" text-anchor="start" class="b" textLength="21" lengthAdjust="spacingAndGlyphs">0 ADJ.</text>
<text x="722" y="370.6" font-size="7.2" text-anchor="start" class="b" textLength="18" lengthAdjust="spacingAndGlyphs">(F.P.)</text>
<text x="727" y="387.1" font-size="7.2" text-anchor="start" class="b" textLength="10" lengthAdjust="spacingAndGlyphs">R52</text>
<text x="727" y="394.6" font-size="7.2" text-anchor="start" class="b" textLength="10" lengthAdjust="spacingAndGlyphs">470</text>
<polyline points="765,354.5 747.5,354.5"/>
<polygon points="746.5,354.5 749.6,352.7 749.6,356.3" stroke-width="0.6" fill="#000"/>
<circle cx="749.5" cy="354.5" r="1.6" fill="#000" stroke="none"/>
<polyline points="754,366 754,348"/>
<polygon points="754,345.5 752.2,348.6 755.8,348.6" stroke-width="0.6" fill="#000"/>
<text x="750" y="341.6" font-size="7.2" text-anchor="start" class="b" textLength="9" lengthAdjust="spacingAndGlyphs">CW</text>
<circle cx="765" cy="354.5" r="2.3" fill="#000" stroke="none"/>
<polyline points="765,354.5 775,354.5"/>
<polyline points="775,354.5 776,352.7 778.1,356.3 780.2,352.7 782.3,356.3 784.4,352.7 786.5,356.3 787.5,354.5" stroke-width="1.1"/>
<polyline points="787.5,354.5 835,354.5"/>
<circle cx="801" cy="354.5" r="2.3" fill="#000" stroke="none"/>
<polyline points="765,354.5 765,339.5"/>
<polyline points="765,339.5 780,339.5"/>
<polyline points="780,339.5 780,349"/>
<polygon points="780,351 778.4,348.2 781.6,348.2" stroke-width="0.6" fill="#000"/>
<polyline points="783,344 789,344" stroke-width="1"/>
<polygon points="782,344 784.5,342.6 784.5,345.4" stroke-width="0.6" fill="#000"/>
<text x="789" y="346.6" font-size="7.2" text-anchor="start" class="b" textLength="11" lengthAdjust="spacingAndGlyphs">CW</text>
<text x="761" y="329.3" font-size="7.8" text-anchor="start" class="b" textLength="43" lengthAdjust="spacingAndGlyphs">GR METER</text>
<text x="764" y="336.3" font-size="7.8" text-anchor="start" class="b" textLength="37" lengthAdjust="spacingAndGlyphs">TRACKING</text>
<text x="765" y="364.6" font-size="7.2" text-anchor="start" class="b" textLength="13" lengthAdjust="spacingAndGlyphs">R49</text>
<text x="765" y="372.1" font-size="7.2" text-anchor="start" class="b" textLength="17" lengthAdjust="spacingAndGlyphs">250K</text>
<polyline points="801,354.5 801,367.5"/>
<circle cx="801" cy="380" r="12.5" fill="none" stroke-width="1.3"/>
<polyline points="801,372 803,373.6 799,376.8 803,380 799,383.2 803,386.4 801,388" stroke-width="1.1"/>
<polyline points="803,386 806,392" stroke-width="0.9"/>
<polyline points="806,392 808,386" stroke-width="0.9"/>
<polyline points="801,392.5 801,404"/>
<polygon points="796.5,404 805.5,404 801,411" stroke-width="1.2"/>
<text x="805" y="367.6" font-size="7.2" text-anchor="start" class="b" textLength="19" lengthAdjust="spacingAndGlyphs">LDR2</text>
<polygon points="835,345 835,382.5 869,363.8" stroke-width="1.3"/>
<text x="851" y="366.1" font-size="6.6" text-anchor="middle" class="b">K2-A</text>
<text x="831" y="353.2" font-size="6" text-anchor="middle" class="b">2</text>
<text x="831" y="372.7" font-size="6" text-anchor="middle" class="b">1</text>
<text x="873" y="360.2" font-size="6" text-anchor="middle" class="b">3</text>
<text x="838.5" y="357.2" font-size="6" text-anchor="middle" class="b">+</text>
<text x="838.5" y="376.7" font-size="6" text-anchor="middle" class="b">–</text>
<polyline points="835,374 828,374"/>
<polyline points="828,374 828,394"/>
<polyline points="828,394 877.5,394"/>
<polyline points="877.5,394 877.5,364"/>
<polyline points="869,364 891,364"/>
<circle cx="877.5" cy="364" r="2.3" fill="#000" stroke="none"/>
<polyline points="891,364 892.2,362.2 894.5,365.8 896.8,362.2 899.2,365.8 901.5,362.2 903.8,365.8 905,364" stroke-width="1.1"/>
<polyline points="905,364 916.6,364"/>
<circle cx="921" cy="364" r="4.4" fill="#fff" stroke-width="1.2"/>
<text x="921" y="365.9" font-size="5.4" text-anchor="middle" class="b">23</text>
<text x="892" y="353.1" font-size="7.2" text-anchor="start" class="b" textLength="18" lengthAdjust="spacingAndGlyphs">R48</text>
<text x="892" y="359.6" font-size="7.2" text-anchor="start" class="b" textLength="18" lengthAdjust="spacingAndGlyphs">5.6K</text>
<text x="927" y="362.6" font-size="7.2" text-anchor="start" class="b" textLength="14" lengthAdjust="spacingAndGlyphs">GRN</text>
<text x="670" y="308.6" font-size="7.2" text-anchor="start" class="b" textLength="17" lengthAdjust="spacingAndGlyphs">+18V</text>
<circle cx="679" cy="313" r="2.3" fill="#fff" stroke-width="1.1"/>
<polyline points="679,315.3 679,325"/>
<polyline points="679,325 680.8,326.6 677.2,329.8 680.8,332.9 677.2,336.1 680.8,339.2 677.2,342.4 679,344" stroke-width="1.1"/>
<polyline points="679,344 679,416"/>
<text x="682" y="333.1" font-size="7.2" text-anchor="start" class="b" textLength="14" lengthAdjust="spacingAndGlyphs">R35</text>
<text x="684" y="340.6" font-size="7.2" text-anchor="start" class="b" textLength="8" lengthAdjust="spacingAndGlyphs">47</text>
<circle cx="679" cy="355" r="2.3" fill="#000" stroke="none"/>
<polyline points="679,355 714.5,355"/>
<polyline points="714.5,355 714.5,431"/>
<polyline points="710,431 719,431" stroke-width="1.3"/>
<polyline points="710,436 719,436" stroke-width="1.3"/>
<polyline points="714.5,436 714.5,507"/>
<text x="717" y="431.1" font-size="7.2" text-anchor="middle" class="b">+</text>
<text x="719" y="435.1" font-size="7.2" text-anchor="start" class="b" textLength="9" lengthAdjust="spacingAndGlyphs">C7</text>
<text x="719" y="443.1" font-size="7.2" text-anchor="start" class="b" textLength="25" lengthAdjust="spacingAndGlyphs">100/25</text>
<polygon points="675.4,369.6 682.6,369.6 679,375.4" stroke-width="0.8" fill="#000"/>
<polyline points="675.4,375.4 682.6,375.4" stroke-width="1.3"/>
<polyline points="683,371 688,374" stroke-width="0.9"/>
<polygon points="688.5,374.5 686.3,373.2 686.3,375.8" stroke-width="0.6" fill="#000"/>
<polyline points="683,375 688,378" stroke-width="0.9"/>
<polygon points="688.5,378.5 686.3,377.2 686.3,379.8" stroke-width="0.6" fill="#000"/>
<polygon points="675.4,398.1 682.6,398.1 679,403.9" stroke-width="0.8" fill="#000"/>
<polyline points="675.4,403.9 682.6,403.9" stroke-width="1.3"/>
<polyline points="683,399.5 688,402.5" stroke-width="0.9"/>
<polygon points="688.5,403 686.3,401.7 686.3,404.3" stroke-width="0.6" fill="#000"/>
<polyline points="683,403.5 688,406.5" stroke-width="0.9"/>
<polygon points="688.5,407 686.3,405.7 686.3,408.3" stroke-width="0.6" fill="#000"/>
<text x="655" y="370.1" font-size="7.2" text-anchor="start" class="b" textLength="11" lengthAdjust="spacingAndGlyphs">CR7</text>
<text x="655" y="377.1" font-size="7.2" text-anchor="start" class="b" textLength="10" lengthAdjust="spacingAndGlyphs">LED</text>
<text x="655" y="384.6" font-size="7.2" text-anchor="start" class="b" textLength="21" lengthAdjust="spacingAndGlyphs">(LDR1)</text>
<text x="655" y="397.6" font-size="7.2" text-anchor="start" class="b" textLength="11" lengthAdjust="spacingAndGlyphs">CR8</text>
<text x="655" y="405.6" font-size="7.2" text-anchor="start" class="b" textLength="10" lengthAdjust="spacingAndGlyphs">LED</text>
<text x="655" y="413.1" font-size="7.2" text-anchor="start" class="b" textLength="21" lengthAdjust="spacingAndGlyphs">(LDR2)</text>
<circle cx="671" cy="428" r="12.5" fill="none" stroke-width="1.3"/>
<polyline points="664,420 664,436" stroke-width="1.8"/>
<polyline points="664,424 679,416"/>
<polyline points="664,432 679,439"/>
<polygon points="678,438.5 675.2,436.9 675.2,440.1" stroke-width="0.6" fill="#000"/>
<polyline points="626,428 664,428"/>
<text x="685" y="418.1" font-size="7.2" text-anchor="start" class="b" textLength="6" lengthAdjust="spacingAndGlyphs">Q1</text>
<text x="685" y="425.9" font-size="6.6" text-anchor="start" class="b" textLength="22" lengthAdjust="spacingAndGlyphs">2N6716</text>
<polyline points="679,439 679,464"/>
<polyline points="679,464 680.8,465.2 677.2,467.8 680.8,470.2 677.2,472.8 680.8,475.2 677.2,477.8 679,479" stroke-width="1.1"/>
<polyline points="679,479 679,502.5"/>
<polyline points="679,502.5 714.5,502.5"/>
<circle cx="714.5" cy="502.5" r="2.3" fill="#000" stroke="none"/>
<polygon points="710,507 719,507 714.5,514" stroke-width="1.2"/>
<polyline points="635,472 675,472"/>
<polygon points="676.5,472 673.4,470.2 673.4,473.8" stroke-width="0.6" fill="#000"/>
<polyline points="664.5,479 664.5,462.5"/>
<polygon points="664.5,460 662.7,463.1 666.3,463.1" stroke-width="0.6" fill="#000"/>
<text x="660" y="457.6" font-size="7.2" text-anchor="start" class="b" textLength="9" lengthAdjust="spacingAndGlyphs">CW</text>
<text x="684" y="467.1" font-size="7.2" text-anchor="start" class="b" textLength="13" lengthAdjust="spacingAndGlyphs">R34</text>
<text x="684" y="474.6" font-size="7.2" text-anchor="start" class="b" textLength="10" lengthAdjust="spacingAndGlyphs">150</text>
<text x="684" y="481.6" font-size="7.2" text-anchor="start" class="b" textLength="18" lengthAdjust="spacingAndGlyphs">RATIO</text>
<text x="684" y="489.1" font-size="7.2" text-anchor="start" class="b" textLength="16" lengthAdjust="spacingAndGlyphs">TRIM</text>
<circle cx="108" cy="359" r="7" fill="none" stroke-width="1.5"/>
<circle cx="108" cy="359" r="3" fill="none" stroke-width="1.3"/>
<polyline points="115,359 183.7,359"/>
<circle cx="130" cy="359" r="5" fill="none" stroke-width="1.3"/>
<circle cx="166" cy="359" r="5" fill="none" stroke-width="1.3"/>
<polyline points="131,353.5 167,353.5" stroke-width="1.2" stroke-dasharray="6 3"/>
<polyline points="131,364.5 167,364.5" stroke-width="1.2" stroke-dasharray="6 3"/>
<text x="149" y="352.1" font-size="7.2" text-anchor="start" class="b" textLength="8" lengthAdjust="spacingAndGlyphs">#6</text>
<text x="153" y="370.1" font-size="7.2" text-anchor="start" class="b" textLength="8" lengthAdjust="spacingAndGlyphs">S2</text>
<text x="147" y="379.1" font-size="7.2" text-anchor="start" class="b" textLength="25" lengthAdjust="spacingAndGlyphs">STEREO</text>
<text x="150" y="387.6" font-size="7.2" text-anchor="start" class="b" textLength="20" lengthAdjust="spacingAndGlyphs">(F.P.)</text>
<polyline points="108,366 108,384"/>
<circle cx="108" cy="372" r="2.3" fill="#000" stroke="none"/>
<polyline points="108,372 130,372"/>
<polyline points="130,372 130,364"/>
<polyline points="102,384 114,384" stroke-width="1.2"/>
<polyline points="102,384 99,389" stroke-width="1.2"/>
<polyline points="108,384 105,389" stroke-width="1.2"/>
<polyline points="114,384 111,389" stroke-width="1.2"/>
<text x="61" y="361.8" font-size="7.8" text-anchor="start" class="b" textLength="34" lengthAdjust="spacingAndGlyphs">STEREO</text>
<text x="47" y="369.8" font-size="7.8" text-anchor="start" class="b" textLength="48" lengthAdjust="spacingAndGlyphs">CONNECTION</text>
<circle cx="186" cy="358" r="2.3" fill="#fff" stroke-width="1.1"/>
<text x="184" y="353.6" font-size="7.2" text-anchor="start" class="b" textLength="9" lengthAdjust="spacingAndGlyphs">ON</text>
<polyline points="187.5,359.8 208.5,371"/>
<circle cx="210.5" cy="372" r="2.3" fill="#fff" stroke-width="1.1"/>
<circle cx="186" cy="385" r="2.3" fill="#fff" stroke-width="1.1"/>
<text x="183" y="394.6" font-size="7.2" text-anchor="start" class="b" textLength="10" lengthAdjust="spacingAndGlyphs">OFF</text>
<polyline points="212.8,372 306,372"/>
<polyline points="306,372 306,390.6"/>
<circle cx="306" cy="395" r="4.4" fill="#fff" stroke-width="1.2"/>
<text x="306" y="396.9" font-size="5.4" text-anchor="middle" class="b">15</text>
<text x="311" y="397.1" font-size="7.2" text-anchor="start" class="b" textLength="14" lengthAdjust="spacingAndGlyphs">G/W</text>
<polyline points="306,399.4 306,444"/>
<polyline points="142.5,335.8 142.5,417.7"/>
<circle cx="143" cy="420" r="2.3" fill="#fff" stroke-width="1.1"/>
<polyline points="143,422.3 143,425"/>
<polyline points="143,425 144.8,426.8 141.2,430.5 144.8,434.2 141.2,437.8 144.8,441.5 141.2,445.2 143,447" stroke-width="1.1"/>
<polyline points="143,447 143,450.7"/>
<circle cx="143" cy="453" r="2.3" fill="#fff" stroke-width="1.1"/>
<polyline points="160.5,435 146.5,435"/>
<polygon points="145.5,435 148.6,433.2 148.6,436.8" stroke-width="0.6" fill="#000"/>
<circle cx="147.5" cy="435" r="1.6" fill="#000" stroke="none"/>
<circle cx="160" cy="435" r="2.3" fill="#fff" stroke-width="1.1"/>
<polyline points="155,442 155,428"/>
<polygon points="155,425 153.2,428.1 156.8,428.1" stroke-width="0.6" fill="#000"/>
<text x="151" y="422.1" font-size="7.2" text-anchor="start" class="b" textLength="10" lengthAdjust="spacingAndGlyphs">CW</text>
<polyline points="162.3,435 209.6,435"/>
<circle cx="214" cy="435" r="4.4" fill="#fff" stroke-width="1.2"/>
<text x="214" y="436.9" font-size="5.4" text-anchor="middle" class="b">13</text>
<polyline points="218.4,435 230,435"/>
<text x="206" y="429.1" font-size="7.2" text-anchor="start" class="b" textLength="12" lengthAdjust="spacingAndGlyphs">O/W</text>
<text x="75" y="435.3" font-size="7.8" text-anchor="start" class="b" textLength="40" lengthAdjust="spacingAndGlyphs">THRESHOLD</text>
<text x="88" y="443.1" font-size="7.2" text-anchor="start" class="b" textLength="20" lengthAdjust="spacingAndGlyphs">(F.P.)</text>
<text x="126" y="435.1" font-size="7.2" text-anchor="start" class="b" textLength="8" lengthAdjust="spacingAndGlyphs">R4</text>
<text x="126" y="443.1" font-size="7.2" text-anchor="start" class="b" textLength="10" lengthAdjust="spacingAndGlyphs">10K</text>
<polyline points="143,455.3 143,464"/>
<polyline points="143,464 197,464"/>
<polyline points="197,464 197,477.6"/>
<circle cx="197" cy="482" r="4.4" fill="#fff" stroke-width="1.2"/>
<text x="197" y="483.9" font-size="5.4" text-anchor="middle" class="b">14</text>
<polyline points="197,486.4 197,509"/>
<polyline points="197,509 220,509"/>
<text x="177" y="485.1" font-size="7.2" text-anchor="start" class="b" textLength="14" lengthAdjust="spacingAndGlyphs">Y/W</text>
<polygon points="230,424.5 230,462.5 264,443.5" stroke-width="1.3"/>
<text x="245" y="445.9" font-size="6.6" text-anchor="middle" class="b">K3-C</text>
<text x="226.5" y="433.7" font-size="6" text-anchor="middle" class="b">9</text>
<text x="225.5" y="454.7" font-size="6" text-anchor="middle" class="b">8</text>
<text x="267" y="442.1" font-size="5.8" text-anchor="middle" class="b">10</text>
<text x="234" y="436.7" font-size="6" text-anchor="middle" class="b">+</text>
<text x="234" y="458.7" font-size="6" text-anchor="middle" class="b">–</text>
<polyline points="230,457 220,457"/>
<polyline points="220,457 220,485"/>
<circle cx="220" cy="474" r="2.3" fill="#000" stroke="none"/>
<polyline points="220,485 221.8,486.2 218.2,488.8 221.8,491.2 218.2,493.8 221.8,496.2 218.2,498.8 220,500" stroke-width="1.1"/>
<polyline points="220,500 220,517"/>
<circle cx="220" cy="509" r="2.3" fill="#000" stroke="none"/>
<polygon points="215.5,517 224.5,517 220,524" stroke-width="1.2"/>
<polyline points="220,474 235,474"/>
<polyline points="235,474 236.3,472.2 239,475.8 241.7,472.2 244.3,475.8 247,472.2 249.7,475.8 251,474" stroke-width="1.1"/>
<polyline points="251,474 272,474"/>
<polyline points="272,474 272,444"/>
<text x="240" y="470.1" font-size="7.2" text-anchor="start" class="b" textLength="12" lengthAdjust="spacingAndGlyphs">R16</text>
<text x="240" y="482.6" font-size="7.2" text-anchor="start" class="b" textLength="12" lengthAdjust="spacingAndGlyphs">10K</text>
<text x="226" y="494.1" font-size="7.2" text-anchor="start" class="b" textLength="11" lengthAdjust="spacingAndGlyphs">R15</text>
<text x="226" y="501.6" font-size="7.2" text-anchor="start" class="b" textLength="14" lengthAdjust="spacingAndGlyphs">330</text>
<polyline points="264,444 282,444"/>
<circle cx="272" cy="444" r="2.3" fill="#000" stroke="none"/>
<polyline points="282,444 283.2,442.2 285.8,445.8 288.2,442.2 290.8,445.8 293.2,442.2 295.8,445.8 297,444" stroke-width="1.1"/>
<polyline points="297,444 321,444"/>
<circle cx="306" cy="444" r="2.3" fill="#000" stroke="none"/>
<text x="284" y="434.1" font-size="7.2" text-anchor="start" class="b" textLength="6" lengthAdjust="spacingAndGlyphs">R1</text>
<text x="284" y="440.1" font-size="7.2" text-anchor="start" class="b" textLength="14" lengthAdjust="spacingAndGlyphs">4.7K</text>
<polyline points="321,439.8 321,448.2" stroke-width="1.3"/>
<polyline points="324,439.8 324,448.2" stroke-width="1.3"/>
<polyline points="324,444 355,444"/>
<circle cx="330" cy="444" r="2.3" fill="#000" stroke="none"/>
<text x="315" y="432.1" font-size="7.2" text-anchor="start" class="b" textLength="10" lengthAdjust="spacingAndGlyphs">C5</text>
<text x="313" y="438.6" font-size="7.2" text-anchor="start" class="b" textLength="14" lengthAdjust="spacingAndGlyphs">0.22</text>
<polyline points="330,444 330,457.5"/>
<polyline points="330,457.5 331.8,458.5 328.2,460.6 331.8,462.7 328.2,464.8 331.8,466.9 328.2,469 330,470" stroke-width="1.1"/>
<polyline points="330,470 330,485"/>
<polygon points="325.5,485 334.5,485 330,492" stroke-width="1.2"/>
<text x="312" y="464.1" font-size="7.2" text-anchor="start" class="b" textLength="11" lengthAdjust="spacingAndGlyphs">R18</text>
<text x="312" y="471.6" font-size="7.2" text-anchor="start" class="b" textLength="14" lengthAdjust="spacingAndGlyphs">100K</text>
<polygon points="355,434.5 355,472.5 389,453.5" stroke-width="1.3"/>
<text x="370" y="455.9" font-size="6.6" text-anchor="middle" class="b">K3-D</text>
<text x="350" y="442.1" font-size="5.8" text-anchor="middle" class="b">13</text>
<text x="348" y="467.1" font-size="5.8" text-anchor="middle" class="b">14</text>
<text x="367.5" y="438.6" font-size="5.8" text-anchor="middle" class="b">11</text>
<text x="392" y="451.1" font-size="5.8" text-anchor="middle" class="b">12</text>
<text x="368" y="472.7" font-size="6" text-anchor="middle" class="b">7</text>
<text x="359" y="446.2" font-size="6" text-anchor="middle" class="b">+</text>
<text x="359" y="467.7" font-size="6" text-anchor="middle" class="b">–</text>
<circle cx="365" cy="412.5" r="2.3" fill="#fff" stroke-width="1.1"/>
<text x="357" y="407.6" font-size="7.2" text-anchor="start" class="b" textLength="15" lengthAdjust="spacingAndGlyphs">+18V</text>
<polyline points="365,414.8 365,440"/>
<circle cx="365" cy="499.5" r="2.3" fill="#fff" stroke-width="1.1"/>
<text x="360" y="510.1" font-size="7.2" text-anchor="start" class="b" textLength="15" lengthAdjust="spacingAndGlyphs">–18V</text>
<polyline points="365,467 365,497.2"/>
<polyline points="355,465 344.5,465"/>
<polyline points="344.5,465 344.5,482.5"/>
<polyline points="344.5,482.5 399,482.5"/>
<polyline points="389,454 407.5,454"/>
<circle cx="399" cy="454" r="2.3" fill="#000" stroke="none"/>
<polyline points="399,390 399,482.5"/>
<polyline points="407.5,454 408.8,452.2 411.2,455.8 413.8,452.2 416.2,455.8 418.8,452.2 421.2,455.8 422.5,454" stroke-width="1.1"/>
<polyline points="422.5,454 462.5,454"/>
<circle cx="431" cy="454" r="2.3" fill="#000" stroke="none"/>
<text x="408" y="435.1" font-size="7.2" text-anchor="start" class="b" textLength="10" lengthAdjust="spacingAndGlyphs">R19</text>
<text x="407" y="441.6" font-size="7.2" text-anchor="start" class="b" textLength="18" lengthAdjust="spacingAndGlyphs">4.99K</text>
<text x="410" y="448.6" font-size="7.2" text-anchor="start" class="b" textLength="8" lengthAdjust="spacingAndGlyphs">1%</text>
<polyline points="399,390 459,390"/>
<polyline points="459,390 460.1,388.2 462.2,391.8 464.4,388.2 466.6,391.8 468.8,388.2 470.9,391.8 472,390" stroke-width="1.1"/>
<polyline points="472,390 585.8,390"/>
<circle cx="561" cy="390" r="2.3" fill="#000" stroke="none"/>
<polygon points="587.1,386.4 587.1,393.6 592.9,390" stroke-width="0.8" fill="#000"/>
<polyline points="592.9,386.4 592.9,393.6" stroke-width="1.3"/>
<polyline points="593,390 626,390"/>
<polyline points="626,390 626,428"/>
<circle cx="626" cy="428" r="2.3" fill="#000" stroke="none"/>
<text x="459" y="373.1" font-size="7.2" text-anchor="start" class="b" textLength="13" lengthAdjust="spacingAndGlyphs">R22</text>
<text x="460" y="380.1" font-size="7.2" text-anchor="start" class="b" textLength="10" lengthAdjust="spacingAndGlyphs">10K</text>
<text x="461" y="386.6" font-size="7.2" text-anchor="start" class="b" textLength="7" lengthAdjust="spacingAndGlyphs">1%</text>
<text x="585" y="377.1" font-size="7.2" text-anchor="start" class="b" textLength="12" lengthAdjust="spacingAndGlyphs">CR6</text>
<text x="585" y="384.1" font-size="7.2" text-anchor="start" class="b" textLength="12" lengthAdjust="spacingAndGlyphs">V10</text>
<polyline points="431,419 431,505"/>
<polyline points="431,419 459,419"/>
<polyline points="459,419 460.1,417.2 462.4,420.8 464.6,417.2 466.9,420.8 469.1,417.2 471.4,420.8 472.5,419" stroke-width="1.1"/>
<polyline points="472.5,419 536,419"/>
<circle cx="505" cy="419" r="2.3" fill="#000" stroke="none"/>
<polyline points="536,419 537.2,417.2 539.5,420.8 541.8,417.2 544.2,420.8 546.5,417.2 548.8,420.8 550,419" stroke-width="1.1"/>
<polyline points="550,419 584,419"/>
<circle cx="561" cy="419" r="2.3" fill="#000" stroke="none"/>
<text x="459" y="403.1" font-size="7.2" text-anchor="start" class="b" textLength="13" lengthAdjust="spacingAndGlyphs">R30</text>
<text x="457" y="409.6" font-size="7.2" text-anchor="start" class="b" textLength="20" lengthAdjust="spacingAndGlyphs">4.99K</text>
<text x="462" y="416.6" font-size="7.2" text-anchor="start" class="b" textLength="7" lengthAdjust="spacingAndGlyphs">1%</text>
<text x="538" y="403.1" font-size="7.2" text-anchor="start" class="b" textLength="12" lengthAdjust="spacingAndGlyphs">R21</text>
<text x="536" y="409.6" font-size="7.2" text-anchor="start" class="b" textLength="18" lengthAdjust="spacingAndGlyphs">4.99K</text>
<text x="541" y="416.6" font-size="7.2" text-anchor="start" class="b" textLength="7" lengthAdjust="spacingAndGlyphs">1%</text>
<polygon points="462.5,444 462.5,481 495,462.5" stroke-width="1.3"/>
<text x="477" y="464.9" font-size="6.6" text-anchor="middle" class="b">K3-B</text>
<text x="457.5" y="452.7" font-size="6" text-anchor="middle" class="b">6</text>
<text x="457.5" y="474.2" font-size="6" text-anchor="middle" class="b">5</text>
<text x="497.5" y="460.2" font-size="6" text-anchor="middle" class="b">4</text>
<text x="466" y="456.2" font-size="6" text-anchor="middle" class="b">–</text>
<text x="466" y="477.2" font-size="6" text-anchor="middle" class="b">+</text>
<polyline points="462.5,475 451,475"/>
<polyline points="451,475 451,487"/>
<polygon points="446.5,487 455.5,487 451,494" stroke-width="1.2"/>
<polyline points="495,462.5 505,462.5"/>
<circle cx="505" cy="462.5" r="2.3" fill="#000" stroke="none"/>
<polyline points="505,419 505,505"/>
<polygon points="501.4,446.9 508.6,446.9 505,441.1" stroke-width="0.8" fill="#000"/>
<polyline points="501.4,441.1 508.6,441.1" stroke-width="1.3"/>
<text x="510" y="444.1" font-size="7.2" text-anchor="start" class="b" textLength="12" lengthAdjust="spacingAndGlyphs">CR5</text>
<text x="511" y="451.1" font-size="7.2" text-anchor="start" class="b" textLength="11" lengthAdjust="spacingAndGlyphs">V10</text>
<polyline points="431,505 505,505"/>
<polygon points="473.9,501.4 473.9,508.6 468.1,505" stroke-width="0.8" fill="#000"/>
<polyline points="468.1,501.4 468.1,508.6" stroke-width="1.3"/>
<text x="466" y="492.6" font-size="7.2" text-anchor="start" class="b" textLength="13" lengthAdjust="spacingAndGlyphs">CR4</text>
<text x="467" y="499.6" font-size="7.2" text-anchor="start" class="b" textLength="11" lengthAdjust="spacingAndGlyphs">V10</text>
<polyline points="561,390 561,576.6"/>
<polygon points="584,409 584,447.5 617.5,428.2" stroke-width="1.3"/>
<text x="598" y="430.6" font-size="6.6" text-anchor="middle" class="b">K3-A</text>
<text x="580" y="415.7" font-size="6" text-anchor="middle" class="b">1</text>
<text x="580" y="437.7" font-size="6" text-anchor="middle" class="b">2</text>
<text x="621" y="424.7" font-size="6" text-anchor="middle" class="b">3</text>
<text x="588" y="421.2" font-size="6" text-anchor="middle" class="b">–</text>
<text x="588" y="442.2" font-size="6" text-anchor="middle" class="b">+</text>
<polyline points="584,440 571,440"/>
<polyline points="571,440 571,450"/>
<polygon points="566.5,450 575.5,450 571,457" stroke-width="1.2"/>
<polyline points="617.5,428 626,428"/>
<circle cx="561" cy="472.5" r="2.3" fill="#000" stroke="none"/>
<polyline points="561,472.5 600,472.5"/>
<polyline points="600,472.5 601.2,470.7 603.8,474.3 606.2,470.7 608.8,474.3 611.2,470.7 613.8,474.3 615,472.5" stroke-width="1.1"/>
<polyline points="615,472.5 635,472.5"/>
<text x="602" y="462.1" font-size="7.2" text-anchor="start" class="b" textLength="15" lengthAdjust="spacingAndGlyphs">R28</text>
<text x="602" y="469.1" font-size="7.2" text-anchor="start" class="b" textLength="15" lengthAdjust="spacingAndGlyphs">33K</text>
<circle cx="561" cy="497.5" r="2.3" fill="#000" stroke="none"/>
<polyline points="561,497.5 577.5,497.5"/>
<polyline points="577.5,493.3 577.5,501.7" stroke-width="1.3"/>
<polyline points="581,493.3 581,501.7" stroke-width="1.3"/>
<polyline points="581,497.5 600,497.5"/>
<polyline points="600,497.5 601.2,495.7 603.8,499.3 606.2,495.7 608.8,499.3 611.2,495.7 613.8,499.3 615,497.5" stroke-width="1.1"/>
<polyline points="615,497.5 635,497.5"/>
<text x="575" y="485.6" font-size="7.2" text-anchor="start" class="b" textLength="7" lengthAdjust="spacingAndGlyphs">C6</text>
<text x="575" y="492.6" font-size="7.2" text-anchor="start" class="b" textLength="8" lengthAdjust="spacingAndGlyphs">2.2</text>
<text x="602" y="487.1" font-size="7.2" text-anchor="start" class="b" textLength="13" lengthAdjust="spacingAndGlyphs">R29</text>
<text x="602" y="494.1" font-size="7.2" text-anchor="start" class="b" textLength="13" lengthAdjust="spacingAndGlyphs">33K</text>
<circle cx="635" cy="472" r="2.3" fill="#000" stroke="none"/>
<circle cx="635" cy="497.5" r="2.3" fill="#000" stroke="none"/>
<polyline points="635,472 635,514.6"/>
<circle cx="636" cy="519" r="4.4" fill="#fff" stroke-width="1.2"/>
<text x="636" y="520.9" font-size="5.4" text-anchor="middle" class="b">12</text>
<text x="645" y="517.1" font-size="7.2" text-anchor="start" class="b" textLength="12" lengthAdjust="spacingAndGlyphs">BRN</text>
<polyline points="640.4,519 703.8,519"/>
<polyline points="703.8,519 703.8,649"/>
<circle cx="561" cy="539.5" r="2.3" fill="#000" stroke="none"/>
<polyline points="561,539.5 877.7,539.5"/>
<polyline points="561,548 562.8,549.3 559.2,552 562.8,554.7 559.2,557.3 562.8,560 559.2,562.7 561,564" stroke-width="1.1"/>
<text x="566" y="555.1" font-size="7.2" text-anchor="start" class="b" textLength="12" lengthAdjust="spacingAndGlyphs">R33</text>
<text x="566" y="562.1" font-size="7.2" text-anchor="start" class="b" textLength="6" lengthAdjust="spacingAndGlyphs">1K</text>
<circle cx="561" cy="581" r="4.4" fill="#fff" stroke-width="1.2"/>
<text x="561" y="582.9" font-size="5.4" text-anchor="middle" class="b">19</text>
<text x="569" y="579.6" font-size="7.2" text-anchor="start" class="b" textLength="14" lengthAdjust="spacingAndGlyphs">RED</text>
<polyline points="565.4,581 582.2,581"/>
<polyline points="582.2,581 582.2,603.7"/>
<circle cx="582.2" cy="606" r="2.3" fill="#fff" stroke-width="1.1"/>
<polyline points="584.5,606 604.2,606"/>
<polyline points="606.5,557.7 654.2,557.7"/>
<circle cx="630.2" cy="557.7" r="2.3" fill="#000" stroke="none"/>
<polyline points="606.5,557.7 606.5,567"/>
<polyline points="606.5,567 608.3,568.2 604.7,570.5 608.3,572.8 604.7,575.2 608.3,577.5 604.7,579.8 606.5,581" stroke-width="1.1"/>
<polyline points="606.5,581 606.5,603.7"/>
<circle cx="606.5" cy="606" r="2.3" fill="#fff" stroke-width="1.1"/>
<polyline points="630.2,557.7 630.2,603.7"/>
<circle cx="630.2" cy="606" r="2.3" fill="#fff" stroke-width="1.1"/>
<polyline points="654.2,557.7 654.2,567"/>
<polyline points="654.2,567 656,568.2 652.4,570.5 656,572.8 652.4,575.2 656,577.5 652.4,579.8 654.2,581" stroke-width="1.1"/>
<polyline points="654.2,581 654.2,603.7"/>
<circle cx="654.2" cy="606" r="2.3" fill="#fff" stroke-width="1.1"/>
<circle cx="679.3" cy="606" r="2.3" fill="#fff" stroke-width="1.1"/>
<text x="610" y="570.6" font-size="7.2" text-anchor="start" class="b" textLength="10" lengthAdjust="spacingAndGlyphs">R32</text>
<text x="610" y="578.1" font-size="7.2" text-anchor="start" class="b" textLength="12" lengthAdjust="spacingAndGlyphs">3.6K</text>
<text x="610" y="585.6" font-size="7.2" text-anchor="start" class="b" textLength="15" lengthAdjust="spacingAndGlyphs">(F.P.)</text>
<text x="660" y="570.6" font-size="7.2" text-anchor="start" class="b" textLength="11" lengthAdjust="spacingAndGlyphs">R31</text>
<text x="660" y="578.1" font-size="7.2" text-anchor="start" class="b" textLength="13" lengthAdjust="spacingAndGlyphs">5.6K</text>
<text x="660" y="585.6" font-size="7.2" text-anchor="start" class="b" textLength="17" lengthAdjust="spacingAndGlyphs">(F.P.)</text>
<text x="586" y="602.9" font-size="6.6" text-anchor="start" class="b" textLength="7" lengthAdjust="spacingAndGlyphs">2:1</text>
<text x="610" y="602.9" font-size="6.6" text-anchor="start" class="b" textLength="7" lengthAdjust="spacingAndGlyphs">4:1</text>
<text x="634" y="602.9" font-size="6.6" text-anchor="start" class="b" textLength="7" lengthAdjust="spacingAndGlyphs">8:1</text>
<text x="658" y="602.9" font-size="6.6" text-anchor="start" class="b" textLength="9" lengthAdjust="spacingAndGlyphs">12:1</text>
<text x="683" y="602.9" font-size="6.6" text-anchor="start" class="b" textLength="9" lengthAdjust="spacingAndGlyphs">20:1</text>
<polyline points="654.2,633.5 654.2,611"/>
<polygon points="654.2,608.5 652.4,611.6 656,611.6" stroke-width="0.6" fill="#000"/>
<circle cx="654.2" cy="635.8" r="2.3" fill="#fff" stroke-width="1.1"/>
<polyline points="654.2,638.1 654.2,649"/>
<polyline points="654.2,649 703.8,649"/>
<text x="633" y="647.8" font-size="7.8" text-anchor="start" class="b" textLength="17" lengthAdjust="spacingAndGlyphs">S3B</text>
<polyline points="654.2,624.2 804.5,624.2" stroke-width="1.3" stroke-dasharray="9 5"/>
<circle cx="732.5" cy="606" r="2.3" fill="#fff" stroke-width="1.1"/>
<text x="725.5" y="602.9" font-size="6.6" text-anchor="start" class="b" textLength="8" lengthAdjust="spacingAndGlyphs">2:1</text>
<circle cx="756" cy="606" r="2.3" fill="#fff" stroke-width="1.1"/>
<text x="749" y="602.9" font-size="6.6" text-anchor="start" class="b" textLength="8" lengthAdjust="spacingAndGlyphs">4:1</text>
<circle cx="780.5" cy="606" r="2.3" fill="#fff" stroke-width="1.1"/>
<text x="773.5" y="602.9" font-size="6.6" text-anchor="start" class="b" textLength="8" lengthAdjust="spacingAndGlyphs">8:1</text>
<circle cx="804.5" cy="606" r="2.3" fill="#fff" stroke-width="1.1"/>
<text x="797.5" y="602.9" font-size="6.6" text-anchor="start" class="b" textLength="10" lengthAdjust="spacingAndGlyphs">12:1</text>
<circle cx="828" cy="606" r="2.3" fill="#fff" stroke-width="1.1"/>
<text x="821" y="602.9" font-size="6.6" text-anchor="start" class="b" textLength="10" lengthAdjust="spacingAndGlyphs">20:1</text>
<polyline points="758.3,606 778.2,606"/>
<polyline points="782.8,606 802.2,606"/>
<polyline points="806.8,606 825.7,606"/>
<polyline points="804.5,633.5 804.5,611"/>
<polygon points="804.5,608.5 802.7,611.6 806.3,611.6" stroke-width="0.6" fill="#000"/>
<circle cx="804.5" cy="635.8" r="2.3" fill="#fff" stroke-width="1.1"/>
<polyline points="804.5,638.1 804.5,649"/>
<polyline points="804.5,649 877.7,649"/>
<polyline points="877.7,649 877.7,639.6"/>
<text x="785" y="647.8" font-size="7.8" text-anchor="start" class="b" textLength="15" lengthAdjust="spacingAndGlyphs">S3A</text>
<text x="728" y="654.8" font-size="7.8" text-anchor="start" class="b" textLength="14" lengthAdjust="spacingAndGlyphs">S3</text>
<text x="724" y="661.8" font-size="7.8" text-anchor="start" class="b" textLength="23" lengthAdjust="spacingAndGlyphs">RATIO</text>
<text x="726" y="669.3" font-size="7.8" text-anchor="start" class="b" textLength="19" lengthAdjust="spacingAndGlyphs">(F.P.)</text>
<polyline points="828,603.7 828,582.5"/>
<polyline points="828,582.5 844.1,582.5"/>
<circle cx="848.5" cy="582.5" r="4.4" fill="#fff" stroke-width="1.2"/>
<text x="848.5" y="584.4" font-size="5.4" text-anchor="middle" class="b">18</text>
<text x="834" y="579.4" font-size="6.6" text-anchor="start" class="b" textLength="8" lengthAdjust="spacingAndGlyphs">YEL</text>
<polyline points="847.5,539.5 847.5,547.5"/>
<polyline points="847.5,547.5 849.3,548.8 845.7,551.2 849.3,553.8 845.7,556.2 849.3,558.8 845.7,561.2 847.5,562.5" stroke-width="1.1"/>
<polyline points="847.5,562.5 847.5,578.1"/>
<circle cx="847.5" cy="539.5" r="2.3" fill="#000" stroke="none"/>
<text x="830" y="553.6" font-size="7.2" text-anchor="start" class="b" textLength="11" lengthAdjust="spacingAndGlyphs">R23</text>
<text x="828" y="561.1" font-size="7.2" text-anchor="start" class="b" textLength="16" lengthAdjust="spacingAndGlyphs">100K</text>
<polyline points="877.7,539.5 877.7,547.7"/>
<polyline points="877.7,547.7 879.5,548.9 875.9,551.4 879.5,553.8 875.9,556.2 879.5,558.6 875.9,561.1 877.7,562.3" stroke-width="1.1"/>
<polyline points="877.7,562.3 877.7,630.8"/>
<text x="861" y="553.6" font-size="7.2" text-anchor="start" class="b" textLength="11" lengthAdjust="spacingAndGlyphs">R27</text>
<text x="863" y="561.1" font-size="7.2" text-anchor="start" class="b" textLength="7" lengthAdjust="spacingAndGlyphs">1M</text>
<circle cx="877.7" cy="635.2" r="4.4" fill="#fff" stroke-width="1.2"/>
<text x="877.7" y="637.1" font-size="5.4" text-anchor="middle" class="b">17</text>
<text x="880" y="648.6" font-size="7.2" text-anchor="start" class="b" textLength="14" lengthAdjust="spacingAndGlyphs">ORG</text>
<circle cx="877.7" cy="582.7" r="2.3" fill="#000" stroke="none"/>
<polyline points="877.7,582.7 934.7,582.7"/>
<circle cx="905.4" cy="582.7" r="2.3" fill="#000" stroke="none"/>
<circle cx="920.8" cy="582.7" r="2.3" fill="#000" stroke="none"/>
<polyline points="934.7,582.7 935.9,580.9 938.2,584.5 940.5,580.9 942.8,584.5 945,580.9 947.4,584.5 948.5,582.7" stroke-width="1.1"/>
<polyline points="948.5,582.7 972,582.7"/>
<circle cx="974.3" cy="582.7" r="2.3" fill="#fff" stroke-width="1.1"/>
<text x="977" y="585.1" font-size="7.2" text-anchor="start" class="b" textLength="18" lengthAdjust="spacingAndGlyphs">+18V</text>
<polyline points="920.8,582.7 920.8,566.5"/>
<polyline points="920.8,566.5 940.8,566.5"/>
<polyline points="940.8,566.5 940.8,575"/>
<polygon points="940.8,577.5 939.2,574.7 942.4,574.7" stroke-width="0.6" fill="#000"/>
<text x="922" y="573.4" font-size="6.6" text-anchor="start" class="b" textLength="10" lengthAdjust="spacingAndGlyphs">CW</text>
<polyline points="933,571 938,571" stroke-width="1"/>
<polygon points="939,571 936.8,569.7 936.8,572.3" stroke-width="0.6" fill="#000"/>
<text x="932" y="592.1" font-size="7.2" text-anchor="start" class="b" textLength="14" lengthAdjust="spacingAndGlyphs">R57</text>
<text x="933" y="599.6" font-size="7.2" text-anchor="start" class="b" textLength="11" lengthAdjust="spacingAndGlyphs">10K</text>
<polyline points="905.4,582.7 905.4,595.4"/>
<polyline points="905.4,595.4 907.2,596.5 903.6,598.7 907.2,600.9 903.6,603 907.2,605.2 903.6,607.4 905.4,608.5" stroke-width="1.1"/>
<polyline points="905.4,608.5 905.4,618"/>
<polygon points="900.9,618 909.9,618 905.4,625" stroke-width="1.2"/>
<text x="888" y="599.1" font-size="7.2" text-anchor="start" class="b" textLength="12" lengthAdjust="spacingAndGlyphs">R56</text>
<text x="888" y="606.6" font-size="7.2" text-anchor="start" class="b" textLength="12" lengthAdjust="spacingAndGlyphs">10K</text>
<text x="900" y="562.1" font-size="7.8" text-anchor="start" class="b" textLength="70" lengthAdjust="spacingAndGlyphs">THRESHOLD  TRIM</text>
<polyline points="365.7,552 365.7,772.6"/>
<polyline points="365.7,552 423.6,552"/>
<polyline points="423.6,552 423.6,566"/>
<polyline points="447.3,566 447.3,552"/>
<polyline points="447.3,552 490.1,552"/>
<polyline points="490.1,552 490.1,576.2"/>
<circle cx="490.1" cy="576.2" r="2.3" fill="#000" stroke="none"/>
<polyline points="385.7,576.2 527.8,576.2"/>
<polyline points="527.8,576.2 527.8,595.8"/>
<polyline points="527.8,595.8 409.2,595.8"/>
<polyline points="385.7,576.2 385.7,709.6"/>
<circle cx="386.2" cy="713.8" r="4.6" fill="#fff" stroke-width="1.2"/>
<text x="386.2" y="715.7" font-size="5.4" text-anchor="middle" class="b">24</text>
<polyline points="386,718.4 386,734"/>
<rect x="419" y="566" width="9.5" height="40" rx="4.7" fill="none" stroke-width="1.3"/>
<rect x="443.1" y="566" width="9.7" height="40" rx="4.8" fill="none" stroke-width="1.3"/>
<polyline points="428.5,566 443.1,566" stroke-width="1.1" stroke-dasharray="3 2"/>
<polyline points="428.5,606 443.1,606" stroke-width="1.1" stroke-dasharray="3 2"/>
<text x="430" y="563.6" font-size="7.2" text-anchor="start" class="b" textLength="7" lengthAdjust="spacingAndGlyphs">#1</text>
<circle cx="471.6" cy="567" r="9.5" fill="none" stroke-width="1.3"/>
<path d="M469.6,576 C468.6,570 469.6,561 471.6,561 C473.6,561 474.6,570 473.6,576" fill="none" stroke-width="1"/>
<circle cx="510.1" cy="567" r="9.5" fill="none" stroke-width="1.3"/>
<path d="M508.1,576 C507.1,570 508.1,561 510.1,561 C512.1,561 513.1,570 512.1,576" fill="none" stroke-width="1"/>
<text x="464" y="587.3" font-size="7.8" text-anchor="start" class="b" textLength="14" lengthAdjust="spacingAndGlyphs">DS1</text>
<text x="502" y="587.3" font-size="7.8" text-anchor="start" class="b" textLength="14.5" lengthAdjust="spacingAndGlyphs">DS2</text>
<text x="498" y="541.3" font-size="7.8" text-anchor="start" class="b" textLength="21" lengthAdjust="spacingAndGlyphs">#387</text>
<text x="494.7" y="549.3" font-size="7.8" text-anchor="start" class="b" textLength="48.5" lengthAdjust="spacingAndGlyphs">PILOT  LAMPS</text>
<text x="497" y="556.4" font-size="7.8" text-anchor="start" class="b" textLength="40" lengthAdjust="spacingAndGlyphs">ON  METER</text>
<text x="404.7" y="575.6" font-size="7.2" text-anchor="start" class="b" textLength="12.3" lengthAdjust="spacingAndGlyphs">CLR</text>
<text x="408.5" y="592.4" font-size="6.6" text-anchor="start" class="b" textLength="9.5" lengthAdjust="spacingAndGlyphs">BLU</text>
<circle cx="404.7" cy="596.5" r="4.4" fill="#fff" stroke-width="1.2"/>
<text x="404.7" y="598.4" font-size="5.4" text-anchor="middle" class="b">21</text>
<polyline points="404.7,600.9 404.7,617.5"/>
<circle cx="404.7" cy="617.5" r="2.3" fill="#000" stroke="none"/>
<text x="139" y="576.6" font-size="7.2" text-anchor="start" class="b" textLength="6" lengthAdjust="spacingAndGlyphs">F1</text>
<text x="122" y="588.1" font-size="7.2" text-anchor="start" class="b" textLength="48" lengthAdjust="spacingAndGlyphs">V8A S.B. FOR</text>
<text x="123" y="594.8" font-size="7.2" text-anchor="start" class="b" textLength="42.7" lengthAdjust="spacingAndGlyphs">220-240VAC</text>
<text x="124" y="603.3" font-size="7.2" text-anchor="start" class="b" textLength="44" lengthAdjust="spacingAndGlyphs">V4A S.B. FOR</text>
<text x="124" y="610.9" font-size="7.2" text-anchor="start" class="b" textLength="41" lengthAdjust="spacingAndGlyphs">110-125 VAC</text>
<text x="192" y="599.6" font-size="7.2" text-anchor="start" class="b" textLength="9" lengthAdjust="spacingAndGlyphs">S5</text>
<text x="181.6" y="608.2" font-size="7.2" text-anchor="start" class="b" textLength="39" lengthAdjust="spacingAndGlyphs">POWER ON</text>
<text x="178" y="625.1" font-size="6.6" text-anchor="start" class="b" textLength="14.3" lengthAdjust="spacingAndGlyphs">(F.P.)</text>
<polyline points="116,617 116,660"/>
<polyline points="116,617 132.5,617"/>
<circle cx="134.8" cy="617" r="2.3" fill="#fff" stroke-width="1.1"/>
<path d="M137,617 C139,610 145,610 147,617 C149,624 155,624 157,617" fill="none" stroke-width="1.3"/>
<circle cx="158.9" cy="617" r="2.3" fill="#fff" stroke-width="1.1"/>
<polyline points="161.2,617 171.5,617"/>
<circle cx="173.8" cy="617" r="2.3" fill="#fff" stroke-width="1.1"/>
<polyline points="175,611 196,615.3" stroke-width="1.3"/>
<circle cx="198" cy="617" r="2.3" fill="#fff" stroke-width="1.1"/>
<polyline points="200.3,617 319,617"/>
<circle cx="212.1" cy="617" r="2.3" fill="#000" stroke="none"/>
<path d="M108,653.2 L122.8,653.2 L132.7,663.1 L132.7,683 L122.8,692.9 L108,692.9 Z" fill="none" stroke-width="1.3"/>
<rect x="110.7" y="660.2" width="9.9" height="4.3" fill="#000" stroke="none"/>
<rect x="118.5" y="671.6" width="9.9" height="3.6" fill="#000" stroke="none"/>
<rect x="110.7" y="682.2" width="9.9" height="3.6" fill="#000" stroke="none"/>
<polyline points="128.4,673 144,673"/>
<polyline points="144,673 144,688.6"/>
<polyline points="138,688.6 150,688.6" stroke-width="1.2"/>
<polyline points="138,688.6 135,693.6" stroke-width="1.2"/>
<polyline points="144,688.6 141,693.6" stroke-width="1.2"/>
<polyline points="150,688.6 147,693.6" stroke-width="1.2"/>
<text x="103" y="647.6" font-size="7.2" text-anchor="start" class="b" textLength="6" lengthAdjust="spacingAndGlyphs">P1</text>
<text x="120.6" y="651.5" font-size="7.2" text-anchor="start" class="b" textLength="13.5" lengthAdjust="spacingAndGlyphs">BLK</text>
<text x="138.4" y="674.2" font-size="7.2" text-anchor="start" class="b" textLength="14.2" lengthAdjust="spacingAndGlyphs">GRN</text>
<text x="119.2" y="709.6" font-size="7.2" text-anchor="start" class="b" textLength="13.5" lengthAdjust="spacingAndGlyphs">WHT</text>
<polyline points="116,686 116,735"/>
<polyline points="116,735 320,735"/>
<circle cx="212" cy="735" r="2.3" fill="#000" stroke="none"/>
<text x="51.3" y="648" font-size="7.2" text-anchor="start" class="b" textLength="22.7" lengthAdjust="spacingAndGlyphs">INPUT</text>
<text x="51.3" y="656.1" font-size="7.2" text-anchor="start" class="b" textLength="37.7" lengthAdjust="spacingAndGlyphs">100-125 VAC</text>
<text x="53.2" y="664.1" font-size="7.2" text-anchor="start" class="b" textLength="30.3" lengthAdjust="spacingAndGlyphs">50/60 Hz</text>
<text x="64.6" y="671.3" font-size="7.2" text-anchor="start" class="b" textLength="8.4" lengthAdjust="spacingAndGlyphs">OR</text>
<text x="52.3" y="680.2" font-size="7.2" text-anchor="start" class="b" textLength="42.5" lengthAdjust="spacingAndGlyphs">200-250 VAC</text>
<text x="54.2" y="687" font-size="7.2" text-anchor="start" class="b" textLength="32.1" lengthAdjust="spacingAndGlyphs">50/60 Hz</text>
<polyline points="212.4,617 212.4,662.9"/>
<polyline points="212.4,687.4 212.4,735"/>
<circle cx="212.4" cy="665.2" r="2.3" fill="#fff" stroke-width="1.1"/>
<circle cx="212.4" cy="685.1" r="2.3" fill="#fff" stroke-width="1.1"/>
<circle cx="227" cy="665.2" r="2.3" fill="#fff" stroke-width="1.1"/>
<circle cx="227" cy="685.1" r="2.3" fill="#fff" stroke-width="1.1"/>
<circle cx="242.6" cy="665.2" r="2.3" fill="#fff" stroke-width="1.1"/>
<circle cx="242.6" cy="685.1" r="2.3" fill="#fff" stroke-width="1.1"/>
<polyline points="212.4,668.5 227,668.5" stroke-width="1.1"/>
<polyline points="220,668.5 220,681.8" stroke-width="1.1"/>
<polyline points="212.4,681.8 227,681.8" stroke-width="1.1"/>
<polyline points="244.9,665.2 255.4,665.2 255.4,685.1 244.9,685.1" stroke-width="1.1"/>
<text x="201.5" y="678.5" font-size="7.2" text-anchor="start" class="b" textLength="7.8" lengthAdjust="spacingAndGlyphs">115</text>
<text x="239" y="678.5" font-size="7.2" text-anchor="start" class="b" textLength="12.8" lengthAdjust="spacingAndGlyphs">230</text>
<text x="224.2" y="642.7" font-size="7.2" text-anchor="start" class="b" textLength="39.7" lengthAdjust="spacingAndGlyphs">S4  (REAR)</text>
<polyline points="227,662.9 227,647 274.5,647 274.5,689.8 315,689.8"/>
<polyline points="227,687.4 227,704.6 295,704.6 295,660.3 315,660.3"/>
<text x="319" y="599.6" font-size="7.2" text-anchor="start" class="b" textLength="6" lengthAdjust="spacingAndGlyphs">T2</text>
<text x="310" y="606.6" font-size="7.2" text-anchor="start" class="b" textLength="29" lengthAdjust="spacingAndGlyphs">K-12261</text>
<text x="302" y="613.6" font-size="7.2" text-anchor="start" class="b" textLength="12" lengthAdjust="spacingAndGlyphs">BLK</text>
<text x="331.2" y="613.6" font-size="7.2" text-anchor="start" class="b" textLength="10" lengthAdjust="spacingAndGlyphs">RED</text>
<text x="292" y="657.7" font-size="6.6" text-anchor="start" class="b" textLength="24" lengthAdjust="spacingAndGlyphs">BLK/W</text>
<text x="298" y="688" font-size="7.2" text-anchor="start" class="b" textLength="13" lengthAdjust="spacingAndGlyphs">GRY</text>
<text x="278" y="731.2" font-size="7.2" text-anchor="start" class="b" textLength="34" lengthAdjust="spacingAndGlyphs">GRY/WHT</text>
<text x="334.2" y="668.9" font-size="7.2" text-anchor="start" class="b" textLength="9.1" lengthAdjust="spacingAndGlyphs">R/Y</text>
<text x="334.2" y="731.2" font-size="7.2" text-anchor="start" class="b" textLength="9.1" lengthAdjust="spacingAndGlyphs">RED</text>
<text x="308" y="746.2" font-size="7.2" text-anchor="start" class="b" textLength="13" lengthAdjust="spacingAndGlyphs">BRN</text>
<circle cx="307.1" cy="624.1" r="2.2" fill="#000" stroke="none"/>
<circle cx="307.1" cy="696.4" r="2.2" fill="#000" stroke="none"/>
<polyline points="322.4,617 322.4,744" stroke-width="1.2"/>
<polyline points="324.6,617 324.6,744" stroke-width="1.2"/>
<polyline points="317,749 329,749" stroke-width="1.2"/>
<polyline points="317,749 314,754" stroke-width="1.2"/>
<polyline points="323,749 320,754" stroke-width="1.2"/>
<polyline points="329,749 326,754" stroke-width="1.2"/>
<path d="M315,617 a5,3.6 0 0 1 0,7.2 a5,3.6 0 0 1 0,7.2 a5,3.6 0 0 1 0,7.2 a5,3.6 0 0 1 0,7.2 a5,3.6 0 0 1 0,7.2 a5,3.6 0 0 1 0,7.2 " fill="none" stroke-width="1.3"/>
<path d="M315,689.8 a5,3.7 0 0 1 0,7.3 a5,3.7 0 0 1 0,7.3 a5,3.7 0 0 1 0,7.3 a5,3.7 0 0 1 0,7.3 a5,3.7 0 0 1 0,7.3 a5,3.7 0 0 1 0,7.3 " fill="none" stroke-width="1.3"/>
<path d="M332,617 a5.5,3.6 0 0 0 0,7.3 a5.5,3.6 0 0 0 0,7.3 a5.5,3.6 0 0 0 0,7.3 a5.5,3.6 0 0 0 0,7.3 a5.5,3.6 0 0 0 0,7.3 a5.5,3.6 0 0 0 0,7.3 a5.5,3.6 0 0 0 0,7.3 a5.5,3.6 0 0 0 0,7.3 a5.5,3.6 0 0 0 0,7.3 a5.5,3.6 0 0 0 0,7.3 a5.5,3.6 0 0 0 0,7.3 a5.5,3.6 0 0 0 0,7.3 a5.5,3.6 0 0 0 0,7.3 a5.5,3.6 0 0 0 0,7.3 a5.5,3.6 0 0 0 0,7.3 a5.5,3.6 0 0 0 0,7.3 " fill="none" stroke-width="1.3"/>
<polyline points="315,617 300,617"/>
<polyline points="315,733.6 300,733.6"/>
<polyline points="300,735 116,735"/>
<polyline points="332,617 342.9,617"/>
<circle cx="347.3" cy="616.5" r="4.4" fill="#fff" stroke-width="1.2"/>
<text x="347.3" y="618.4" font-size="5.4" text-anchor="middle" class="b">20</text>
<polyline points="351.7,617.5 442.5,617.5"/>
<circle cx="404.7" cy="617.5" r="2.3" fill="#000" stroke="none"/>
<polyline points="442.5,617.5 442.5,650"/>
<polyline points="332,675 342.9,675"/>
<circle cx="347.3" cy="675.3" r="4.4" fill="#fff" stroke-width="1.2"/>
<text x="347.3" y="677.2" font-size="5.4" text-anchor="middle" class="b">25</text>
<polyline points="351.7,675 366.3,675"/>
<circle cx="366.3" cy="674.5" r="2.3" fill="#000" stroke="none"/>
<polyline points="332,733.6 342.9,733.6"/>
<circle cx="347.3" cy="733.8" r="4.4" fill="#fff" stroke-width="1.2"/>
<text x="347.3" y="735.7" font-size="5.4" text-anchor="middle" class="b">22</text>
<polyline points="351.7,733.9 443.6,733.9"/>
<circle cx="386" cy="733.9" r="2.3" fill="#000" stroke="none"/>
<polyline points="443.6,733.9 443.6,700"/>
<circle cx="366.3" cy="655.3" r="4.6" fill="#fff" stroke-width="1.2"/>
<text x="366.3" y="657.2" font-size="5.4" text-anchor="middle" class="b">23</text>
<polyline points="365.7,772.6 469.1,772.6"/>
<polyline points="469.1,772.6 469.1,714"/>
<polygon points="443,650 417.5,675 443,700 467.5,675" stroke-width="1.3"/>
<polygon points="430.7,666.6 426.2,662 432.1,660.7" stroke-width="0.8" fill="#000"/>
<polyline points="434.3,663 429.8,658.4" stroke-width="1.3"/>
<polygon points="451.2,662.9 455.7,658.4 457,664.3" stroke-width="0.8" fill="#000"/>
<polyline points="454.8,666.6 459.3,662.1" stroke-width="1.3"/>
<polygon points="426.2,688 430.7,683.4 432.1,689.3" stroke-width="0.8" fill="#000"/>
<polyline points="429.8,691.6 434.3,687" stroke-width="1.3"/>
<polygon points="455.7,691.6 451.2,687.1 457,685.7" stroke-width="0.8" fill="#000"/>
<polyline points="459.3,687.9 454.8,683.4" stroke-width="1.3"/>
<circle cx="443" cy="650" r="2" fill="#000" stroke="none"/>
<circle cx="417.5" cy="675" r="2" fill="#000" stroke="none"/>
<circle cx="443" cy="700" r="2" fill="#000" stroke="none"/>
<circle cx="467.5" cy="675" r="2" fill="#000" stroke="none"/>
<text x="410" y="658.6" font-size="7.2" text-anchor="start" class="b" textLength="17" lengthAdjust="spacingAndGlyphs">CR10</text>
<text x="462" y="658.6" font-size="7.2" text-anchor="start" class="b" textLength="13" lengthAdjust="spacingAndGlyphs">CR11</text>
<text x="410" y="694.1" font-size="7.2" text-anchor="start" class="b" textLength="15" lengthAdjust="spacingAndGlyphs">CR12</text>
<text x="460" y="694.1" font-size="7.2" text-anchor="start" class="b" textLength="15" lengthAdjust="spacingAndGlyphs">CR13</text>
<text x="434" y="674.4" font-size="6.6" text-anchor="start" class="b" textLength="22" lengthAdjust="spacingAndGlyphs">1N4003</text>
<text x="436" y="682.1" font-size="7.2" text-anchor="start" class="b" textLength="16" lengthAdjust="spacingAndGlyphs">TYP.</text>
<polyline points="417.5,675 406,675"/>
<polyline points="406,675 406,753.6"/>
<polyline points="406,753.6 536.4,753.6"/>
<circle cx="506.9" cy="753.6" r="2.3" fill="#000" stroke="none"/>
<polyline points="467.5,675 535,675"/>
<circle cx="507" cy="675" r="2.3" fill="#000" stroke="none"/>
<polyline points="507,675 507,689"/>
<polyline points="502.5,689 511.5,689" stroke-width="1.3"/>
<polyline points="502.5,696 511.5,696" stroke-width="1.3"/>
<polyline points="507,696 507,730.2"/>
<polyline points="502.5,730.2 511.5,730.2" stroke-width="1.3"/>
<polyline points="502.5,735.2 511.5,735.2" stroke-width="1.3"/>
<polyline points="507,735.2 507,753.6"/>
<text x="501" y="691.1" font-size="7.2" text-anchor="middle" class="b">+</text>
<text x="500.4" y="731.9" font-size="7.2" text-anchor="middle" class="b">+</text>
<text x="514" y="692.1" font-size="7.2" text-anchor="start" class="b" textLength="10" lengthAdjust="spacingAndGlyphs">C14</text>
<text x="514" y="699.1" font-size="7.2" text-anchor="start" class="b" textLength="26" lengthAdjust="spacingAndGlyphs">1000/40</text>
<text x="515" y="731.9" font-size="7.2" text-anchor="start" class="b" textLength="11" lengthAdjust="spacingAndGlyphs">C15</text>
<text x="515" y="738.3" font-size="7.2" text-anchor="start" class="b" textLength="26" lengthAdjust="spacingAndGlyphs">1000/40</text>
<polyline points="469.1,714 666,714"/>
<circle cx="507" cy="714" r="2.3" fill="#000" stroke="none"/>
<circle cx="555.8" cy="714" r="2.3" fill="#000" stroke="none"/>
<circle cx="596" cy="714" r="2.3" fill="#000" stroke="none"/>
<circle cx="631" cy="714" r="2.3" fill="#000" stroke="none"/>
<polyline points="666,714 666,718"/>
<polygon points="661.5,718 670.5,718 666,725" stroke-width="1.2"/>
<text x="651" y="710.6" font-size="7.2" text-anchor="start" class="b" textLength="16" lengthAdjust="spacingAndGlyphs">GRD</text>
<rect x="535" y="665" width="39.5" height="19" fill="#fff" stroke-width="1.3"/>
<rect x="536.4" y="743.5" width="38.6" height="18.5" fill="#fff" stroke-width="1.3"/>
<text x="550" y="657.1" font-size="7.2" text-anchor="start" class="b" textLength="12" lengthAdjust="spacingAndGlyphs">VR1</text>
<text x="550" y="664.1" font-size="7.2" text-anchor="start" class="b" textLength="12" lengthAdjust="spacingAndGlyphs">7815</text>
<text x="550" y="769.6" font-size="7.2" text-anchor="start" class="b" textLength="12" lengthAdjust="spacingAndGlyphs">VR2</text>
<text x="551" y="776.6" font-size="7.2" text-anchor="start" class="b" textLength="12" lengthAdjust="spacingAndGlyphs">7915</text>
<text x="539" y="677.4" font-size="6.6" text-anchor="middle" class="b">1</text>
<text x="570.5" y="677.4" font-size="6.6" text-anchor="middle" class="b">2</text>
<text x="556" y="682.4" font-size="6.6" text-anchor="middle" class="b">3</text>
<text x="540.5" y="755.4" font-size="6.6" text-anchor="middle" class="b">3</text>
<text x="571" y="755.4" font-size="6.6" text-anchor="middle" class="b">2</text>
<text x="555.5" y="750.4" font-size="6.6" text-anchor="middle" class="b">1</text>
<polyline points="555.8,684 555.8,743.5"/>
<polyline points="574.5,674.8 665.2,674.8"/>
<circle cx="596" cy="674.8" r="2.3" fill="#000" stroke="none"/>
<circle cx="631" cy="674.8" r="2.3" fill="#000" stroke="none"/>
<circle cx="667.5" cy="674.8" r="2.3" fill="#fff" stroke-width="1.1"/>
<text x="672" y="677.1" font-size="7.2" text-anchor="start" class="b" textLength="15" lengthAdjust="spacingAndGlyphs">+18V</text>
<polyline points="596,674.8 596,682"/>
<polyline points="596,682 597.8,683.2 594.2,685.5 597.8,687.8 594.2,690.2 597.8,692.5 594.2,694.8 596,696" stroke-width="1.1"/>
<polyline points="596,696 596,703.7"/>
<circle cx="596" cy="706" r="2.3" fill="#fff" stroke-width="1.1"/>
<text x="600" y="690.1" font-size="7.2" text-anchor="start" class="b" textLength="11" lengthAdjust="spacingAndGlyphs">R58</text>
<text x="600" y="697.6" font-size="7.2" text-anchor="start" class="b" textLength="14" lengthAdjust="spacingAndGlyphs">3.3K</text>
<text x="575" y="710.1" font-size="7.2" text-anchor="start" class="b" textLength="12" lengthAdjust="spacingAndGlyphs">GRY</text>
<polyline points="596,708.3 596,737.2"/>
<polygon points="592.5,723.2 599.5,723.2 596,728.8" stroke-width="0.8" fill="#000"/>
<polyline points="592.5,728.8 599.5,728.8" stroke-width="1.3"/>
<polyline points="590,723 586,721" stroke-width="0.9"/>
<polygon points="585.5,720.5 587.6,719.3 587.6,721.7" stroke-width="0.6" fill="#000"/>
<polyline points="590,727 586,725" stroke-width="0.9"/>
<polygon points="585.5,724.5 587.6,723.3 587.6,725.7" stroke-width="0.6" fill="#000"/>
<circle cx="596" cy="739.5" r="2.3" fill="#fff" stroke-width="1.1"/>
<polyline points="596,741.8 596,752.5"/>
<text x="575" y="743.1" font-size="7.2" text-anchor="start" class="b" textLength="15" lengthAdjust="spacingAndGlyphs">WHT</text>
<text x="602" y="727.1" font-size="7.2" text-anchor="start" class="b" textLength="10" lengthAdjust="spacingAndGlyphs">CR8</text>
<text x="602" y="734.1" font-size="7.2" text-anchor="start" class="b" textLength="13" lengthAdjust="spacingAndGlyphs">(LED)</text>
<text x="602" y="742.1" font-size="7.2" text-anchor="start" class="b" textLength="23" lengthAdjust="spacingAndGlyphs">POWER</text>
<polyline points="575,752.5 665.2,752.5"/>
<circle cx="596" cy="752.5" r="2.3" fill="#000" stroke="none"/>
<circle cx="631" cy="752.5" r="2.3" fill="#000" stroke="none"/>
<circle cx="667.5" cy="752.5" r="2.3" fill="#fff" stroke-width="1.1"/>
<text x="672" y="755.1" font-size="7.2" text-anchor="start" class="b" textLength="15" lengthAdjust="spacingAndGlyphs">–18V</text>
<polyline points="631,674.8 631,689"/>
<polyline points="626.5,689 635.5,689" stroke-width="1.3"/>
<polyline points="626.5,695 635.5,695" stroke-width="1.3"/>
<polyline points="631,695 631,726"/>
<polyline points="626.5,726 635.5,726" stroke-width="1.3"/>
<polyline points="626.5,732.5 635.5,732.5" stroke-width="1.3"/>
<polyline points="631,732.5 631,752.5"/>
<text x="626.5" y="688.6" font-size="7.2" text-anchor="middle" class="b">+</text>
<text x="626.5" y="725.6" font-size="7.2" text-anchor="middle" class="b">+</text>
<text x="637" y="693.1" font-size="7.2" text-anchor="start" class="b" textLength="8" lengthAdjust="spacingAndGlyphs">C16</text>
<text x="637" y="701.1" font-size="7.2" text-anchor="start" class="b" textLength="23" lengthAdjust="spacingAndGlyphs">100/25</text>
<text x="637" y="729.1" font-size="7.2" text-anchor="start" class="b" textLength="8" lengthAdjust="spacingAndGlyphs">C17</text>
<text x="637" y="737.1" font-size="7.2" text-anchor="start" class="b" textLength="22" lengthAdjust="spacingAndGlyphs">100/25</text>
<text x="1019" y="562.2" font-size="9" text-anchor="start" class="b" textLength="7" lengthAdjust="spacingAndGlyphs">9.</text>
<circle cx="1040" cy="559" r="4.5" fill="none" stroke-width="1.5"/>
<circle cx="1040" cy="559" r="2.2" fill="#000" stroke="none"/>
<text x="1055" y="561.8" font-size="7.8" text-anchor="start" class="b" textLength="172" lengthAdjust="spacingAndGlyphs">INDICATES WIRE CONNECTION TO P.C. BOARD.</text>
<text x="1019" y="576.2" font-size="9" text-anchor="start" class="b" textLength="7" lengthAdjust="spacingAndGlyphs">8.</text>
<polyline points="1032,573 1046,573" stroke-width="1.3"/>
<polygon points="1042,573 1039.2,571.4 1039.2,574.6" stroke-width="0.6" fill="#000"/>
<text x="1056" y="575.8" font-size="7.8" text-anchor="start" class="b" textLength="140" lengthAdjust="spacingAndGlyphs">INDICATES CLOCKWISE ROTATION.</text>
<text x="1019" y="591.7" font-size="9" text-anchor="start" class="b" textLength="7" lengthAdjust="spacingAndGlyphs">7.</text>
<text x="1046" y="591.3" font-size="7.8" text-anchor="start" class="b" textLength="156" lengthAdjust="spacingAndGlyphs">ALL INTEGRATED CIRCUITS ARE 4136</text>
<text x="1019" y="607.2" font-size="9" text-anchor="start" class="b" textLength="7" lengthAdjust="spacingAndGlyphs">6.</text>
<text x="1031" y="606.8" font-size="7.8" text-anchor="start" class="b" textLength="15" lengthAdjust="spacingAndGlyphs">(F.S)</text>
<text x="1055" y="606.8" font-size="7.8" text-anchor="start" class="b" textLength="137" lengthAdjust="spacingAndGlyphs">INDICATES FACTORY SELECT PART.</text>
<text x="1019" y="622.7" font-size="9" text-anchor="start" class="b" textLength="7" lengthAdjust="spacingAndGlyphs">5.</text>
<text x="1031" y="622.3" font-size="7.8" text-anchor="start" class="b" textLength="16" lengthAdjust="spacingAndGlyphs">(F.P.)</text>
<text x="1056" y="622.3" font-size="7.8" text-anchor="start" class="b" textLength="193" lengthAdjust="spacingAndGlyphs">INDICATES COMPONENT LOCATED ON FRONT PANEL</text>
<text x="1019" y="639.2" font-size="9" text-anchor="start" class="b" textLength="7" lengthAdjust="spacingAndGlyphs">4.</text>
<polyline points="1035,633 1047,633" stroke-width="1.1"/>
<polyline points="1035,633 1032,640" stroke-width="1.1"/>
<polyline points="1041,633 1038,640" stroke-width="1.1"/>
<polyline points="1047,633 1044,640" stroke-width="1.1"/>
<text x="1057.5" y="638.8" font-size="7.8" text-anchor="start" class="b" textLength="114" lengthAdjust="spacingAndGlyphs">INDICATES CHASSIS GROUND.</text>
<text x="1019" y="653.5" font-size="9" text-anchor="start" class="b" textLength="7" lengthAdjust="spacingAndGlyphs">3.</text>
<polyline points="1039,644 1039,650" stroke-width="1.1"/>
<polygon points="1035,650 1043,650 1039,656" stroke-width="1.2"/>
<text x="1057.5" y="653.1" font-size="7.8" text-anchor="start" class="b" textLength="109.5" lengthAdjust="spacingAndGlyphs">INDICATES AUDIO GROUND.</text>
<text x="1019" y="668.7" font-size="9" text-anchor="start" class="b" textLength="7" lengthAdjust="spacingAndGlyphs">2.</text>
<text x="1046" y="668.3" font-size="7.8" text-anchor="start" class="b" textLength="171.5" lengthAdjust="spacingAndGlyphs">CAPACITOR VALUES ARE IN MICROFARADS.</text>
<text x="1019" y="684.6" font-size="9" text-anchor="start" class="b" textLength="7" lengthAdjust="spacingAndGlyphs">1.</text>
<text x="1046" y="684.2" font-size="7.8" text-anchor="start" class="b" textLength="189" lengthAdjust="spacingAndGlyphs">RESISTOR VALUES ARE IN OHMS ± 5% 1/2 W.</text>
<text x="1012.7" y="701.3" font-size="12" text-anchor="start" class="b" textLength="39.1" lengthAdjust="spacingAndGlyphs">NOTES:</text>
<polyline points="1012.7,703.5 1051.8,703.5" stroke-width="1.2"/>
<text x="1068" y="699.2" font-size="7.8" text-anchor="start" class="b" textLength="116" lengthAdjust="spacingAndGlyphs">UNLESS OTHERWISE SPECIFIED.</text>
<polyline points="871,716 1287,716" stroke-width="1.6"/>
<polyline points="871,716 871,829.5" stroke-width="1.5"/>
<polyline points="978,716 978,829.5" stroke-width="1.5"/>
<polyline points="1084,716 1084,829.5" stroke-width="1.5"/>
<polyline points="871,754.5 978,754.5" stroke-width="1.3"/>
<polyline points="871,789.5 978,789.5" stroke-width="1.3"/>
<polyline points="871,819.5 978,819.5" stroke-width="1.3"/>
<polyline points="755.5,751 755.5,829.5" stroke-width="1.5"/>
<polyline points="755.5,751 871,751" stroke-width="1.3"/>
<polyline points="755.5,760 871,760" stroke-width="1.3"/>
<polyline points="755.5,770 871,770" stroke-width="1.3"/>
<polyline points="755.5,780 871,780" stroke-width="1.3"/>
<polyline points="755.5,789.5 871,789.5" stroke-width="1.3"/>
<polyline points="755.5,799.5 871,799.5" stroke-width="1.3"/>
<polyline points="755.5,809.5 871,809.5" stroke-width="1.3"/>
<polyline points="755.5,819.5 871,819.5" stroke-width="1.3"/>
<polyline points="814,751 814,819.5" stroke-width="1.3"/>
<text x="770" y="816.9" font-size="6.6" text-anchor="start" class="b" textLength="29" lengthAdjust="spacingAndGlyphs">NEXT ASSY</text>
<text x="830" y="816.9" font-size="6.6" text-anchor="start" class="b" textLength="25" lengthAdjust="spacingAndGlyphs">USED ON</text>
<text x="794" y="827.1" font-size="7.2" text-anchor="start" class="b" textLength="40" lengthAdjust="spacingAndGlyphs">APPLICATION</text>
<text x="872" y="721.7" font-size="6" text-anchor="start" class="b" textLength="83" lengthAdjust="spacingAndGlyphs">UNLESS OTHERWISE SPECIFIED</text>
<text x="872" y="727.7" font-size="6" text-anchor="start" class="b" textLength="76" lengthAdjust="spacingAndGlyphs">DIMENSIONS ARE IN INCHES</text>
<text x="872" y="733.7" font-size="6" text-anchor="start" class="b" textLength="48" lengthAdjust="spacingAndGlyphs">TOLERANCES ARE:</text>
<text x="872" y="740.2" font-size="6" text-anchor="start" class="b" textLength="29" lengthAdjust="spacingAndGlyphs">FRACTIONS</text>
<text x="911" y="740.2" font-size="6" text-anchor="start" class="b" textLength="24" lengthAdjust="spacingAndGlyphs">DECIMALS</text>
<text x="950" y="740.2" font-size="6" text-anchor="start" class="b" textLength="19" lengthAdjust="spacingAndGlyphs">ANGLES</text>
<text x="878" y="747.4" font-size="6.6" text-anchor="middle" class="b">±</text>
<text x="911" y="747.2" font-size="6" text-anchor="start" class="b" textLength="15" lengthAdjust="spacingAndGlyphs">.XX  ±</text>
<text x="911" y="753.2" font-size="6" text-anchor="start" class="b" textLength="15" lengthAdjust="spacingAndGlyphs">.XXX ±</text>
<text x="951" y="746.9" font-size="6.6" text-anchor="middle" class="b">±</text>
<text x="872" y="761.2" font-size="6" text-anchor="start" class="b" textLength="25" lengthAdjust="spacingAndGlyphs">MATERIAL</text>
<text x="872" y="796.2" font-size="6" text-anchor="start" class="b" textLength="15" lengthAdjust="spacingAndGlyphs">FINISH</text>
<text x="884" y="827.1" font-size="7.2" text-anchor="start" class="b" textLength="80" lengthAdjust="spacingAndGlyphs">DO NOT SCALE DRAWING</text>
<text x="979" y="722.2" font-size="6" text-anchor="start" class="b" textLength="38" lengthAdjust="spacingAndGlyphs">CONTRACT NO.</text>
<polyline points="978,740 1084,740" stroke-width="1.3"/>
<polyline points="978,749.5 1084,749.5" stroke-width="1.3"/>
<polyline points="978,759 1084,759" stroke-width="1.3"/>
<polyline points="978,769 1084,769" stroke-width="1.3"/>
<polyline points="978,779 1084,779" stroke-width="1.3"/>
<polyline points="978,789.2 1084,789.2" stroke-width="1.3"/>
<polyline points="1055,740 1055,789.2" stroke-width="1.3"/>
<text x="1001.5" y="748.2" font-size="6" text-anchor="start" class="b" textLength="30" lengthAdjust="spacingAndGlyphs">APPROVALS</text>
<text x="1063" y="748.2" font-size="6" text-anchor="start" class="b" textLength="12" lengthAdjust="spacingAndGlyphs">DATE</text>
<text x="979" y="756.1" font-size="7.2" text-anchor="start" class="b" textLength="59" lengthAdjust="spacingAndGlyphs">DRAWN R.R.WARM</text>
<text x="1056.5" y="756.1" font-size="7.2" text-anchor="start" class="b" textLength="21.5" lengthAdjust="spacingAndGlyphs">8-18-76</text>
<text x="979" y="765.9" font-size="6.6" text-anchor="start" class="b" textLength="25" lengthAdjust="spacingAndGlyphs">CHECKED</text>
<polyline points="1084,740 1287,740" stroke-width="1.4"/>
<polyline points="1084,789.2 1287,789.2" stroke-width="1.4"/>
<polyline points="1084,818.8 1287,818.8" stroke-width="1.4"/>
<polyline points="1104,789.2 1104,818.8" stroke-width="1.3"/>
<polyline points="1153,789.2 1153,818.8" stroke-width="1.3"/>
<polyline points="1133,818.8 1133,829.5" stroke-width="1.3"/>
<polyline points="1219,818.8 1219,829.5" stroke-width="1.3"/>
<g fill="none" stroke-width="1.6"><path d="M1089,721 L1089,733 Q1089,737 1093,737 L1097,737 Q1101,737 1101,733 L1101,721 L1098,721 L1098,732 Q1098,734 1096,734 L1094,734 Q1092,734 1092,732 L1092,721 Z"/><path d="M1103,726 L1103,737 L1106,737 L1106,729 L1110,729 L1110,726 Z"/><path d="M1111,724 L1111,737 L1120,737 L1120,734 L1114,734 L1114,731 L1119,731 L1119,728 L1114,728 L1114,727 L1120,727 L1120,724 Z"/><path d="M1121,724 L1121,737 L1124,737 L1124,724 Z"/><path d="M1121,720 L1124,720 L1124,722 L1121,722 Z"/></g>
<text x="1129" y="728.8" font-size="7.8" text-anchor="start" class="b" textLength="151" lengthAdjust="spacingAndGlyphs">UNITED RECORDING ELECTRONICS INDUSTRIES</text>
<text x="1139" y="763.3" font-size="12" text-anchor="start" class="n" textLength="75" lengthAdjust="spacingAndGlyphs">SCHEMATIC</text>
<text x="1133" y="776.9" font-size="8" text-anchor="start" class="n" textLength="106" lengthAdjust="spacingAndGlyphs">COMPRESSOR / LIMITER</text>
<text x="1089" y="794.9" font-size="5.4" text-anchor="start" class="b" textLength="10" lengthAdjust="spacingAndGlyphs">SIZE</text>
<text x="1090" y="811" font-size="14" text-anchor="start" class="b" textLength="9" lengthAdjust="spacingAndGlyphs">D</text>
<text x="1114" y="794.9" font-size="5.4" text-anchor="start" class="b" textLength="29" lengthAdjust="spacingAndGlyphs">MODEL NO.</text>
<text x="1111" y="809.8" font-size="12" text-anchor="start" class="n" textLength="37" lengthAdjust="spacingAndGlyphs">LA4 (A)</text>
<text x="1155" y="794.9" font-size="5.4" text-anchor="start" class="b" textLength="35" lengthAdjust="spacingAndGlyphs">DRAWING NO.</text>
<text x="1191.5" y="810.4" font-size="13.5" text-anchor="start" class="n" textLength="54" lengthAdjust="spacingAndGlyphs">13247 B</text>
<text x="1086.5" y="826.2" font-size="6" text-anchor="start" class="b" textLength="15" lengthAdjust="spacingAndGlyphs">SCALE</text>
<path d="M1106,825 Q1110,821 1114,824 Q1118,827 1122,823" fill="none" stroke-width="1.1"/>
<text x="1221" y="826.2" font-size="6" text-anchor="start" class="b" textLength="15" lengthAdjust="spacingAndGlyphs">SHEET</text>
<text x="1242" y="826.4" font-size="6.6" text-anchor="start" class="b" textLength="3" lengthAdjust="spacingAndGlyphs">1</text>
<text x="1250" y="826.2" font-size="6" text-anchor="start" class="b" textLength="6" lengthAdjust="spacingAndGlyphs">OF</text>
<text x="1259.5" y="826.4" font-size="6.6" text-anchor="start" class="b" textLength="2.5" lengthAdjust="spacingAndGlyphs">1</text>
</svg>
</body></html>
